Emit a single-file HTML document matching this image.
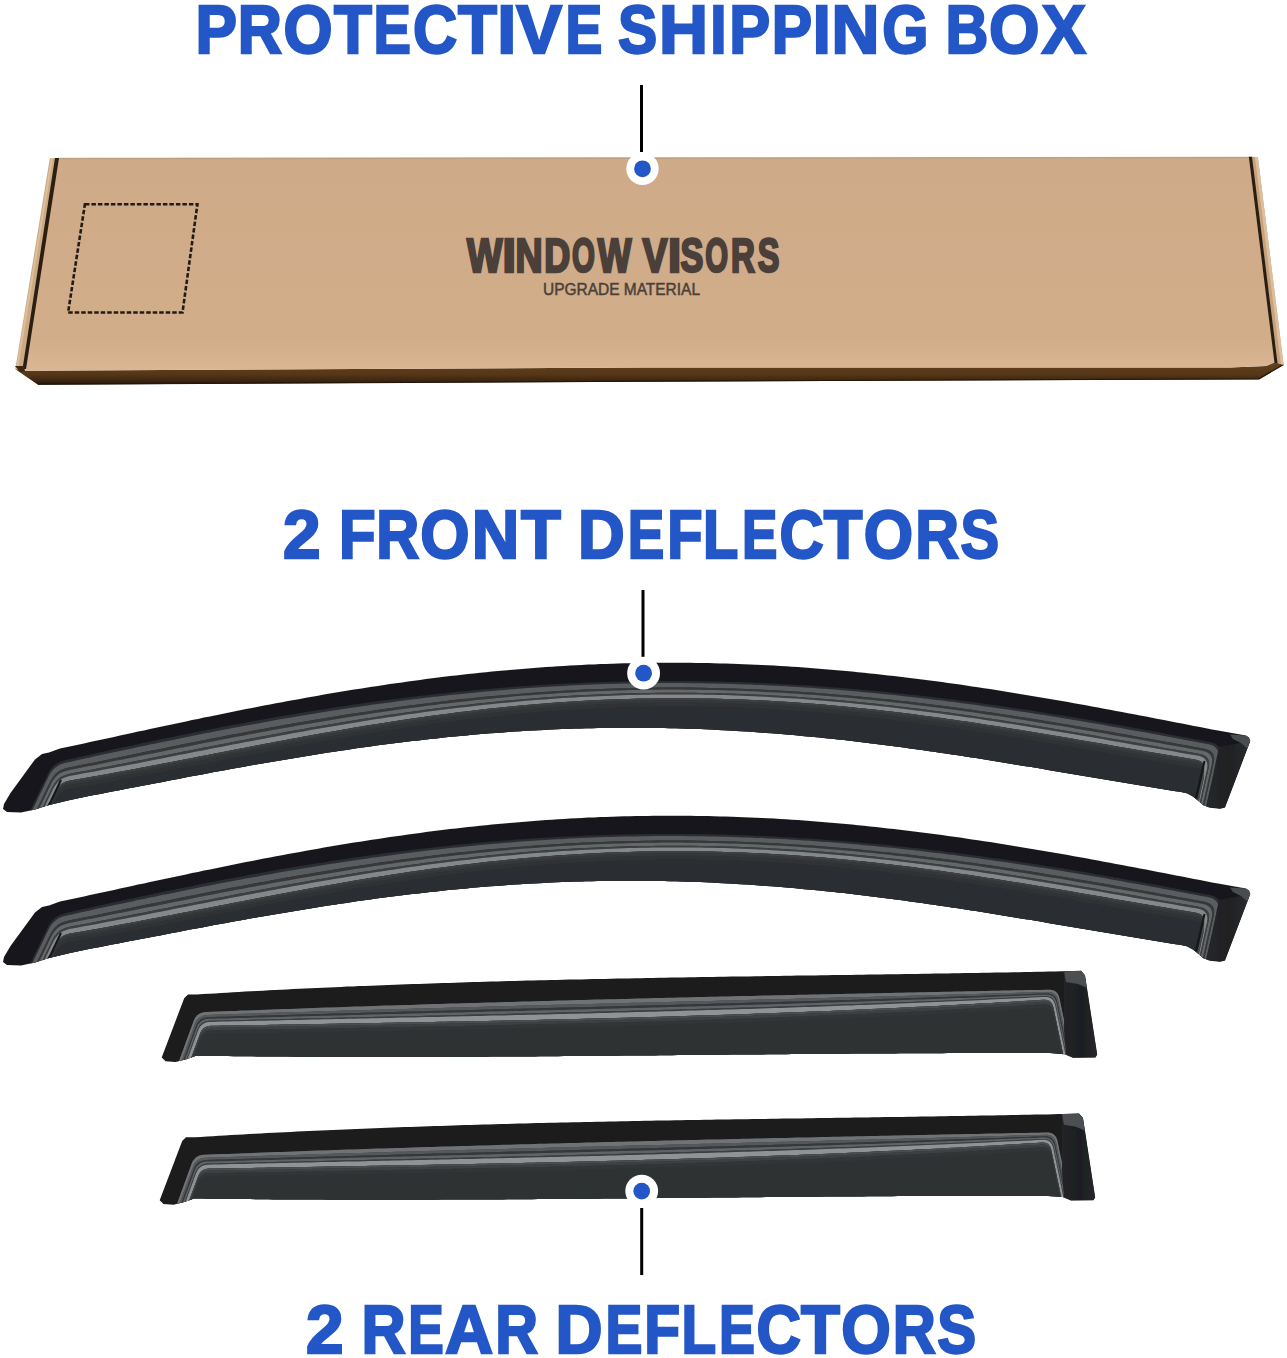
<!DOCTYPE html>
<html><head><meta charset="utf-8">
<style>
html,body{margin:0;padding:0;background:#fff;width:1287px;height:1358px;overflow:hidden}
svg{display:block}
</style></head>
<body>
<svg width="1287" height="1358" viewBox="0 0 1287 1358">
<defs>
<linearGradient id="front" x1="0" y1="0" x2="0" y2="1">
<stop offset="0" stop-color="#65421f"/><stop offset="0.55" stop-color="#553617"/><stop offset="0.85" stop-color="#3a2410"/><stop offset="1" stop-color="#1e120a"/>
</linearGradient>
<linearGradient id="topface" x1="0" y1="0" x2="0" y2="1">
<stop offset="0" stop-color="#ceaa88"/><stop offset="0.85" stop-color="#d1ad8a"/><stop offset="1" stop-color="#dab693"/>
</linearGradient>
<linearGradient id="capg1" x1="0" y1="0" x2="1" y2="0"><stop offset="0" stop-color="#26282a"/><stop offset="0.5" stop-color="#1f2123"/><stop offset="1" stop-color="#2a2c2e"/></linearGradient>
<linearGradient id="capg3" x1="0" y1="0" x2="1" y2="0"><stop offset="0" stop-color="#232527"/><stop offset="0.55" stop-color="#1c1e20"/><stop offset="1" stop-color="#27292b"/></linearGradient>
<filter id="soft" x="-2%" y="-10%" width="104%" height="120%"><feGaussianBlur stdDeviation="0.6"/></filter>
<clipPath id="c1"><polygon points="42.0,754.1 49.0,752.4 60.0,748.6 66.0,747.3 72.0,746.0 78.0,744.7 84.0,743.4 90.0,742.1 96.0,740.8 102.0,739.5 108.0,738.2 114.0,736.9 120.0,735.6 126.0,734.2 132.0,732.9 138.0,731.6 144.0,730.4 150.0,729.1 156.0,727.8 162.0,726.5 168.0,725.2 174.0,723.9 180.0,722.7 186.0,721.4 192.0,720.1 198.0,718.9 204.0,717.6 210.0,716.4 216.0,715.2 222.0,713.9 228.0,712.7 234.0,711.5 240.0,710.3 246.0,709.1 252.0,708.0 258.0,706.8 264.0,705.6 270.0,704.5 276.0,703.3 282.0,702.2 288.0,701.1 294.0,700.0 300.0,698.9 306.0,697.8 312.0,696.7 318.0,695.7 324.0,694.6 330.0,693.6 336.0,692.6 342.0,691.6 348.0,690.6 354.0,689.6 360.0,688.7 366.0,687.7 372.0,686.8 378.0,685.9 384.0,685.0 390.0,684.1 396.0,683.2 402.0,682.4 408.0,681.5 414.0,680.7 420.0,679.9 426.0,679.1 432.0,678.3 438.0,677.6 444.0,676.8 450.0,676.1 456.0,675.4 462.0,674.7 468.0,674.1 474.0,673.4 480.0,672.8 486.0,672.2 492.0,671.6 498.0,671.0 504.0,670.4 510.0,669.9 516.0,669.4 522.0,668.9 528.0,668.4 534.0,667.9 540.0,667.5 546.0,667.1 552.0,666.7 558.0,666.3 564.0,665.9 570.0,665.6 576.0,665.2 582.0,664.9 588.0,664.6 594.0,664.4 600.0,664.1 606.0,663.9 612.0,663.7 618.0,663.5 624.0,663.3 630.0,663.2 636.0,663.1 642.0,662.9 648.0,662.9 654.0,662.8 660.0,662.7 666.0,662.7 672.0,662.7 678.0,662.7 684.0,662.8 690.0,662.8 696.0,662.9 702.0,663.0 708.0,663.1 714.0,663.2 720.0,663.4 726.0,663.5 732.0,663.7 738.0,664.0 744.0,664.2 750.0,664.4 756.0,664.7 762.0,665.0 768.0,665.3 774.0,665.6 780.0,666.0 786.0,666.3 792.0,666.7 798.0,667.1 804.0,667.6 810.0,668.0 816.0,668.5 822.0,668.9 828.0,669.4 834.0,669.9 840.0,670.5 846.0,671.0 852.0,671.6 858.0,672.2 864.0,672.8 870.0,673.4 876.0,674.0 882.0,674.7 888.0,675.4 894.0,676.1 900.0,676.8 906.0,677.5 912.0,678.2 918.0,679.0 924.0,679.7 930.0,680.5 936.0,681.3 942.0,682.1 948.0,682.9 954.0,683.8 960.0,684.6 966.0,685.5 972.0,686.4 978.0,687.3 984.0,688.2 990.0,689.1 996.0,690.0 1002.0,691.0 1008.0,691.9 1014.0,692.9 1020.0,693.9 1026.0,694.9 1032.0,695.9 1038.0,696.9 1044.0,697.9 1050.0,699.0 1056.0,700.0 1062.0,701.0 1068.0,702.1 1074.0,703.2 1080.0,704.3 1086.0,705.3 1092.0,706.4 1098.0,707.5 1104.0,708.7 1110.0,709.8 1116.0,710.9 1122.0,712.0 1128.0,713.2 1134.0,714.3 1140.0,715.4 1146.0,716.6 1152.0,717.7 1158.0,718.9 1164.0,720.1 1170.0,721.2 1176.0,722.4 1182.0,723.6 1188.0,724.7 1194.0,725.9 1200.0,727.1 1206.0,728.2 1212.0,729.4 1218.0,730.6 1246.0,735.4 1249.0,737.5 1250.3,741.0 1225.0,807.4 1220.0,808.8 1210.0,807.8 1203.0,805.0 1198.0,800.5 1193.0,796.5 1187.0,793.2 1180.0,791.8 1174.0,790.9 1168.0,789.9 1162.0,789.0 1156.0,788.0 1150.0,787.0 1144.0,786.0 1138.0,785.0 1132.0,784.0 1126.0,783.0 1120.0,782.0 1114.0,781.0 1108.0,780.0 1102.0,779.0 1096.0,778.0 1090.0,776.9 1084.0,775.9 1078.0,774.9 1072.0,773.9 1066.0,772.9 1060.0,771.9 1054.0,770.9 1048.0,769.9 1042.0,768.8 1036.0,767.8 1030.0,766.8 1024.0,765.9 1018.0,764.9 1012.0,763.9 1006.0,762.9 1000.0,761.9 994.0,761.0 988.0,760.0 982.0,759.1 976.0,758.1 970.0,757.2 964.0,756.3 958.0,755.3 952.0,754.4 946.0,753.5 940.0,752.7 934.0,751.8 928.0,750.9 922.0,750.1 916.0,749.2 910.0,748.4 904.0,747.6 898.0,746.8 892.0,746.0 886.0,745.2 880.0,744.4 874.0,743.7 868.0,742.9 862.0,742.2 856.0,741.5 850.0,740.8 844.0,740.1 838.0,739.5 832.0,738.8 826.0,738.2 820.0,737.6 814.0,737.0 808.0,736.4 802.0,735.9 796.0,735.3 790.0,734.8 784.0,734.3 778.0,733.8 772.0,733.3 766.0,732.9 760.0,732.4 754.0,732.0 748.0,731.6 742.0,731.2 736.0,730.9 730.0,730.5 724.0,730.2 718.0,729.9 712.0,729.6 706.0,729.3 700.0,729.1 694.0,728.9 688.0,728.7 682.0,728.5 676.0,728.3 670.0,728.2 664.0,728.1 658.0,727.9 652.0,727.9 646.0,727.8 640.0,727.8 634.0,727.7 628.0,727.7 622.0,727.8 616.0,727.8 610.0,727.9 604.0,727.9 598.0,728.0 592.0,728.2 586.0,728.3 580.0,728.5 574.0,728.6 568.0,728.9 562.0,729.1 556.0,729.3 550.0,729.6 544.0,729.9 538.0,730.2 532.0,730.5 526.0,730.8 520.0,731.2 514.0,731.6 508.0,732.0 502.0,732.4 496.0,732.9 490.0,733.3 484.0,733.8 478.0,734.3 472.0,734.8 466.0,735.4 460.0,735.9 454.0,736.5 448.0,737.1 442.0,737.7 436.0,738.4 430.0,739.0 424.0,739.7 418.0,740.4 412.0,741.1 406.0,741.8 400.0,742.5 394.0,743.3 388.0,744.0 382.0,744.8 376.0,745.6 370.0,746.5 364.0,747.3 358.0,748.1 352.0,749.0 346.0,749.9 340.0,750.8 334.0,751.7 328.0,752.6 322.0,753.5 316.0,754.5 310.0,755.4 304.0,756.4 298.0,757.4 292.0,758.4 286.0,759.4 280.0,760.4 274.0,761.4 268.0,762.4 262.0,763.5 256.0,764.5 250.0,765.6 244.0,766.7 238.0,767.7 232.0,768.8 226.0,769.9 220.0,771.0 214.0,772.1 208.0,773.3 202.0,774.4 196.0,775.5 190.0,776.6 184.0,777.8 178.0,778.9 172.0,780.1 166.0,781.2 160.0,782.4 154.0,783.5 148.0,784.7 142.0,785.8 136.0,787.0 130.0,788.1 124.0,789.3 118.0,790.4 112.0,791.6 106.0,792.7 100.0,793.9 94.0,795.0 90.0,795.8 70.0,800.0 49.0,805.0 35.0,809.5 21.0,812.5 7.0,812.0 3.0,809.0 4.0,804.0 10.5,793.0 35.0,759.4"/></clipPath>
<clipPath id="c3"><polygon points="188.0,994.4 197.0,994.5 203.0,994.1 209.0,993.7 215.0,993.4 221.0,993.0 227.0,992.7 233.0,992.3 239.0,992.0 245.0,991.6 251.0,991.3 257.0,991.0 263.0,990.7 269.0,990.3 275.0,990.0 281.0,989.7 287.0,989.4 293.0,989.1 299.0,988.8 305.0,988.5 311.0,988.3 317.0,988.0 323.0,987.7 329.0,987.4 335.0,987.2 341.0,986.9 347.0,986.6 353.0,986.4 359.0,986.1 365.0,985.9 371.0,985.7 377.0,985.4 383.0,985.2 389.0,985.0 395.0,984.7 401.0,984.5 407.0,984.3 413.0,984.1 419.0,983.9 425.0,983.7 431.0,983.5 437.0,983.3 443.0,983.1 449.0,982.9 455.0,982.7 461.0,982.5 467.0,982.3 473.0,982.1 479.0,981.9 485.0,981.8 491.0,981.6 497.0,981.4 503.0,981.3 509.0,981.1 515.0,980.9 521.0,980.8 527.0,980.6 533.0,980.5 539.0,980.3 545.0,980.2 551.0,980.0 557.0,979.9 563.0,979.8 569.0,979.6 575.0,979.5 581.0,979.4 587.0,979.2 593.0,979.1 599.0,979.0 605.0,978.9 611.0,978.7 617.0,978.6 623.0,978.5 629.0,978.4 635.0,978.3 641.0,978.2 647.0,978.0 653.0,977.9 659.0,977.8 665.0,977.7 671.0,977.6 677.0,977.5 683.0,977.4 689.0,977.3 695.0,977.2 701.0,977.1 707.0,977.0 713.0,976.9 719.0,976.8 725.0,976.7 731.0,976.6 737.0,976.5 743.0,976.4 749.0,976.4 755.0,976.3 761.0,976.2 767.0,976.1 773.0,976.0 779.0,975.9 785.0,975.8 791.0,975.7 797.0,975.6 803.0,975.6 809.0,975.5 815.0,975.4 821.0,975.3 827.0,975.2 833.0,975.1 839.0,975.0 845.0,975.0 851.0,974.9 857.0,974.8 863.0,974.7 869.0,974.6 875.0,974.5 881.0,974.4 887.0,974.3 893.0,974.2 899.0,974.2 905.0,974.1 911.0,974.0 917.0,973.9 923.0,973.8 929.0,973.7 935.0,973.6 941.0,973.5 947.0,973.4 953.0,973.3 959.0,973.2 965.0,973.1 971.0,973.0 977.0,972.9 983.0,972.8 989.0,972.7 995.0,972.6 1001.0,972.5 1007.0,972.4 1013.0,972.3 1019.0,972.2 1025.0,972.0 1031.0,971.9 1037.0,971.8 1043.0,971.7 1049.0,971.6 1055.0,971.4 1061.0,971.3 1065.0,971.2 1081.0,970.8 1085.0,975.2 1097.2,1054.6 1095.5,1057.4 1072.9,1057.8 1064.8,1054.2 1050.0,1053.1 1044.0,1053.1 1038.0,1053.1 1032.0,1053.1 1026.0,1053.1 1020.0,1053.1 1014.0,1053.0 1008.0,1053.0 1002.0,1053.0 996.0,1053.0 990.0,1053.0 984.0,1053.1 978.0,1053.1 972.0,1053.1 966.0,1053.1 960.0,1053.1 954.0,1053.1 948.0,1053.1 942.0,1053.2 936.0,1053.2 930.0,1053.2 924.0,1053.2 918.0,1053.2 912.0,1053.3 906.0,1053.3 900.0,1053.3 894.0,1053.4 888.0,1053.4 882.0,1053.4 876.0,1053.5 870.0,1053.5 864.0,1053.6 858.0,1053.6 852.0,1053.6 846.0,1053.7 840.0,1053.7 834.0,1053.8 828.0,1053.8 822.0,1053.9 816.0,1053.9 810.0,1053.9 804.0,1054.0 798.0,1054.0 792.0,1054.1 786.0,1054.2 780.0,1054.2 774.0,1054.3 768.0,1054.3 762.0,1054.4 756.0,1054.4 750.0,1054.5 744.0,1054.5 738.0,1054.6 732.0,1054.6 726.0,1054.7 720.0,1054.7 714.0,1054.8 708.0,1054.9 702.0,1054.9 696.0,1055.0 690.0,1055.0 684.0,1055.1 678.0,1055.1 672.0,1055.2 666.0,1055.3 660.0,1055.3 654.0,1055.4 648.0,1055.4 642.0,1055.5 636.0,1055.5 630.0,1055.6 624.0,1055.6 618.0,1055.7 612.0,1055.7 606.0,1055.8 600.0,1055.9 594.0,1055.9 588.0,1056.0 582.0,1056.0 576.0,1056.1 570.0,1056.1 564.0,1056.1 558.0,1056.2 552.0,1056.2 546.0,1056.3 540.0,1056.3 534.0,1056.4 528.0,1056.4 522.0,1056.4 516.0,1056.5 510.0,1056.5 504.0,1056.6 498.0,1056.6 492.0,1056.6 486.0,1056.7 480.0,1056.7 474.0,1056.7 468.0,1056.7 462.0,1056.8 456.0,1056.8 450.0,1056.8 444.0,1056.8 438.0,1056.9 432.0,1056.9 426.0,1056.9 420.0,1056.9 414.0,1056.9 408.0,1056.9 402.0,1056.9 396.0,1056.9 390.0,1056.9 384.0,1056.9 378.0,1056.9 372.0,1056.9 366.0,1056.9 360.0,1056.9 354.0,1056.9 348.0,1056.9 342.0,1056.9 336.0,1056.9 330.0,1056.9 324.0,1056.8 318.0,1056.8 312.0,1056.8 306.0,1056.7 300.0,1056.7 294.0,1056.7 288.0,1056.6 282.0,1056.6 276.0,1056.6 270.0,1056.5 264.0,1056.5 258.0,1056.4 252.0,1056.3 246.0,1056.3 240.0,1056.2 234.0,1056.2 228.0,1056.1 222.0,1056.0 216.0,1055.9 210.0,1055.9 204.0,1055.8 198.0,1055.7 196.0,1055.7 187.3,1058.9 175.6,1062.0 165.5,1061.2 161.7,1057.4 184.2,998.3"/></clipPath>
<g id="v1" filter="url(#soft)"><polygon points="42.0,754.1 49.0,752.4 60.0,748.6 66.0,747.3 72.0,746.0 78.0,744.7 84.0,743.4 90.0,742.1 96.0,740.8 102.0,739.5 108.0,738.2 114.0,736.9 120.0,735.6 126.0,734.2 132.0,732.9 138.0,731.6 144.0,730.4 150.0,729.1 156.0,727.8 162.0,726.5 168.0,725.2 174.0,723.9 180.0,722.7 186.0,721.4 192.0,720.1 198.0,718.9 204.0,717.6 210.0,716.4 216.0,715.2 222.0,713.9 228.0,712.7 234.0,711.5 240.0,710.3 246.0,709.1 252.0,708.0 258.0,706.8 264.0,705.6 270.0,704.5 276.0,703.3 282.0,702.2 288.0,701.1 294.0,700.0 300.0,698.9 306.0,697.8 312.0,696.7 318.0,695.7 324.0,694.6 330.0,693.6 336.0,692.6 342.0,691.6 348.0,690.6 354.0,689.6 360.0,688.7 366.0,687.7 372.0,686.8 378.0,685.9 384.0,685.0 390.0,684.1 396.0,683.2 402.0,682.4 408.0,681.5 414.0,680.7 420.0,679.9 426.0,679.1 432.0,678.3 438.0,677.6 444.0,676.8 450.0,676.1 456.0,675.4 462.0,674.7 468.0,674.1 474.0,673.4 480.0,672.8 486.0,672.2 492.0,671.6 498.0,671.0 504.0,670.4 510.0,669.9 516.0,669.4 522.0,668.9 528.0,668.4 534.0,667.9 540.0,667.5 546.0,667.1 552.0,666.7 558.0,666.3 564.0,665.9 570.0,665.6 576.0,665.2 582.0,664.9 588.0,664.6 594.0,664.4 600.0,664.1 606.0,663.9 612.0,663.7 618.0,663.5 624.0,663.3 630.0,663.2 636.0,663.1 642.0,662.9 648.0,662.9 654.0,662.8 660.0,662.7 666.0,662.7 672.0,662.7 678.0,662.7 684.0,662.8 690.0,662.8 696.0,662.9 702.0,663.0 708.0,663.1 714.0,663.2 720.0,663.4 726.0,663.5 732.0,663.7 738.0,664.0 744.0,664.2 750.0,664.4 756.0,664.7 762.0,665.0 768.0,665.3 774.0,665.6 780.0,666.0 786.0,666.3 792.0,666.7 798.0,667.1 804.0,667.6 810.0,668.0 816.0,668.5 822.0,668.9 828.0,669.4 834.0,669.9 840.0,670.5 846.0,671.0 852.0,671.6 858.0,672.2 864.0,672.8 870.0,673.4 876.0,674.0 882.0,674.7 888.0,675.4 894.0,676.1 900.0,676.8 906.0,677.5 912.0,678.2 918.0,679.0 924.0,679.7 930.0,680.5 936.0,681.3 942.0,682.1 948.0,682.9 954.0,683.8 960.0,684.6 966.0,685.5 972.0,686.4 978.0,687.3 984.0,688.2 990.0,689.1 996.0,690.0 1002.0,691.0 1008.0,691.9 1014.0,692.9 1020.0,693.9 1026.0,694.9 1032.0,695.9 1038.0,696.9 1044.0,697.9 1050.0,699.0 1056.0,700.0 1062.0,701.0 1068.0,702.1 1074.0,703.2 1080.0,704.3 1086.0,705.3 1092.0,706.4 1098.0,707.5 1104.0,708.7 1110.0,709.8 1116.0,710.9 1122.0,712.0 1128.0,713.2 1134.0,714.3 1140.0,715.4 1146.0,716.6 1152.0,717.7 1158.0,718.9 1164.0,720.1 1170.0,721.2 1176.0,722.4 1182.0,723.6 1188.0,724.7 1194.0,725.9 1200.0,727.1 1206.0,728.2 1212.0,729.4 1218.0,730.6 1246.0,735.4 1249.0,737.5 1250.3,741.0 1225.0,807.4 1220.0,808.8 1210.0,807.8 1203.0,805.0 1198.0,800.5 1193.0,796.5 1187.0,793.2 1180.0,791.8 1174.0,790.9 1168.0,789.9 1162.0,789.0 1156.0,788.0 1150.0,787.0 1144.0,786.0 1138.0,785.0 1132.0,784.0 1126.0,783.0 1120.0,782.0 1114.0,781.0 1108.0,780.0 1102.0,779.0 1096.0,778.0 1090.0,776.9 1084.0,775.9 1078.0,774.9 1072.0,773.9 1066.0,772.9 1060.0,771.9 1054.0,770.9 1048.0,769.9 1042.0,768.8 1036.0,767.8 1030.0,766.8 1024.0,765.9 1018.0,764.9 1012.0,763.9 1006.0,762.9 1000.0,761.9 994.0,761.0 988.0,760.0 982.0,759.1 976.0,758.1 970.0,757.2 964.0,756.3 958.0,755.3 952.0,754.4 946.0,753.5 940.0,752.7 934.0,751.8 928.0,750.9 922.0,750.1 916.0,749.2 910.0,748.4 904.0,747.6 898.0,746.8 892.0,746.0 886.0,745.2 880.0,744.4 874.0,743.7 868.0,742.9 862.0,742.2 856.0,741.5 850.0,740.8 844.0,740.1 838.0,739.5 832.0,738.8 826.0,738.2 820.0,737.6 814.0,737.0 808.0,736.4 802.0,735.9 796.0,735.3 790.0,734.8 784.0,734.3 778.0,733.8 772.0,733.3 766.0,732.9 760.0,732.4 754.0,732.0 748.0,731.6 742.0,731.2 736.0,730.9 730.0,730.5 724.0,730.2 718.0,729.9 712.0,729.6 706.0,729.3 700.0,729.1 694.0,728.9 688.0,728.7 682.0,728.5 676.0,728.3 670.0,728.2 664.0,728.1 658.0,727.9 652.0,727.9 646.0,727.8 640.0,727.8 634.0,727.7 628.0,727.7 622.0,727.8 616.0,727.8 610.0,727.9 604.0,727.9 598.0,728.0 592.0,728.2 586.0,728.3 580.0,728.5 574.0,728.6 568.0,728.9 562.0,729.1 556.0,729.3 550.0,729.6 544.0,729.9 538.0,730.2 532.0,730.5 526.0,730.8 520.0,731.2 514.0,731.6 508.0,732.0 502.0,732.4 496.0,732.9 490.0,733.3 484.0,733.8 478.0,734.3 472.0,734.8 466.0,735.4 460.0,735.9 454.0,736.5 448.0,737.1 442.0,737.7 436.0,738.4 430.0,739.0 424.0,739.7 418.0,740.4 412.0,741.1 406.0,741.8 400.0,742.5 394.0,743.3 388.0,744.0 382.0,744.8 376.0,745.6 370.0,746.5 364.0,747.3 358.0,748.1 352.0,749.0 346.0,749.9 340.0,750.8 334.0,751.7 328.0,752.6 322.0,753.5 316.0,754.5 310.0,755.4 304.0,756.4 298.0,757.4 292.0,758.4 286.0,759.4 280.0,760.4 274.0,761.4 268.0,762.4 262.0,763.5 256.0,764.5 250.0,765.6 244.0,766.7 238.0,767.7 232.0,768.8 226.0,769.9 220.0,771.0 214.0,772.1 208.0,773.3 202.0,774.4 196.0,775.5 190.0,776.6 184.0,777.8 178.0,778.9 172.0,780.1 166.0,781.2 160.0,782.4 154.0,783.5 148.0,784.7 142.0,785.8 136.0,787.0 130.0,788.1 124.0,789.3 118.0,790.4 112.0,791.6 106.0,792.7 100.0,793.9 94.0,795.0 90.0,795.8 70.0,800.0 49.0,805.0 35.0,809.5 21.0,812.5 7.0,812.0 3.0,809.0 4.0,804.0 10.5,793.0 35.0,759.4" fill="#18191b"/>
<g clip-path="url(#c1)"><polygon points="27.1,817.1 47.9,773.9 49.3,771.3 50.9,769.0 52.8,766.9 54.8,765.1 57.1,763.5 59.5,762.2 62.2,761.2 65.1,760.3 71.1,759.0 77.1,757.6 83.1,756.3 89.1,754.9 95.1,753.6 101.1,752.3 107.1,750.9 113.1,749.6 119.1,748.3 125.1,747.0 131.1,745.7 137.1,744.4 143.1,743.1 149.1,741.9 155.1,740.6 161.1,739.3 167.1,738.1 173.1,736.9 179.1,735.6 185.1,734.4 191.1,733.2 197.1,732.0 203.1,730.8 209.1,729.6 215.1,728.4 221.1,727.3 227.1,726.1 233.1,725.0 239.1,723.9 245.1,722.7 251.1,721.6 257.1,720.6 263.1,719.5 269.1,718.4 275.1,717.3 281.1,716.3 287.1,715.3 293.1,714.2 299.1,713.2 305.1,712.3 311.1,711.3 317.1,710.3 323.1,709.4 329.1,708.4 335.1,707.5 341.1,706.6 347.1,705.7 353.1,704.8 359.1,703.9 365.1,703.1 371.1,702.2 377.1,701.4 383.1,700.6 389.1,699.8 395.1,699.0 401.1,698.3 407.1,697.5 413.1,696.8 419.1,696.1 425.1,695.4 431.1,694.7 437.1,694.0 443.1,693.4 449.1,692.7 455.1,692.1 461.1,691.5 467.1,690.9 473.1,690.3 479.1,689.8 485.1,689.2 491.1,688.7 497.1,688.2 503.1,687.7 509.1,687.2 515.1,686.8 521.1,686.3 527.1,685.9 533.1,685.5 539.1,685.1 545.1,684.8 551.1,684.4 557.1,684.1 563.1,683.8 569.1,683.4 575.1,683.2 581.1,682.9 587.1,682.6 593.1,682.4 599.1,682.2 605.1,682.0 611.1,681.8 617.1,681.7 623.1,681.5 629.1,681.4 635.1,681.3 641.1,681.2 647.1,681.1 653.1,681.1 659.1,681.0 665.1,681.0 671.1,681.0 677.1,681.0 683.1,681.0 689.1,681.1 695.1,681.1 701.1,681.2 707.1,681.3 713.1,681.4 719.1,681.6 725.1,681.7 731.1,681.9 737.1,682.1 743.1,682.3 749.1,682.5 755.1,682.8 761.1,683.0 767.1,683.3 773.1,683.6 779.1,683.9 785.1,684.2 791.1,684.5 797.1,684.9 803.1,685.3 809.1,685.6 815.1,686.0 821.1,686.5 827.1,686.9 833.1,687.4 839.1,687.8 845.1,688.3 851.1,688.8 857.1,689.3 863.1,689.9 869.1,690.4 875.1,691.0 881.1,691.5 887.1,692.1 893.1,692.8 899.1,693.4 905.1,694.0 911.1,694.7 917.1,695.3 923.1,696.0 929.1,696.7 935.1,697.4 941.1,698.1 947.1,698.9 953.1,699.6 959.1,700.4 965.1,701.2 971.1,702.0 977.1,702.8 983.1,703.6 989.1,704.4 995.1,705.3 1001.1,706.1 1007.1,707.0 1013.1,707.9 1019.1,708.8 1025.1,709.7 1031.1,710.6 1037.1,711.5 1043.1,712.5 1049.1,713.4 1055.1,714.4 1061.1,715.3 1067.1,716.3 1073.1,717.3 1079.1,718.3 1085.1,719.3 1091.1,720.3 1097.1,721.4 1103.1,722.4 1109.1,723.5 1115.1,724.5 1121.1,725.6 1127.1,726.7 1133.1,727.7 1139.1,728.8 1145.1,729.9 1151.1,731.0 1157.1,732.1 1163.1,733.3 1169.1,734.4 1175.1,735.5 1181.1,736.7 1187.1,737.8 1193.1,739.0 1199.1,740.1 1205.1,741.3 1210.6,742.3 1213.3,743.1 1215.7,744.1 1217.5,745.4 1218.9,747.0 1219.9,748.9 1220.4,751.1 1220.4,753.6 1220.0,756.4 1209.7,803.3 1209.7,860.0 27.1,860.0" fill="#2c2e30"/>
<polygon points="27.9,819.4 48.8,776.1 50.2,773.6 51.8,771.2 53.6,769.2 55.7,767.4 57.9,765.8 60.4,764.5 63.1,763.5 66.0,762.7 72.0,761.4 78.0,760.1 84.0,758.7 90.0,757.4 96.0,756.1 102.0,754.8 108.0,753.5 114.0,752.2 120.0,751.0 126.0,749.7 132.0,748.4 138.0,747.1 144.0,745.9 150.0,744.6 156.0,743.4 162.0,742.1 168.0,740.9 174.0,739.7 180.0,738.4 186.0,737.2 192.0,736.0 198.0,734.8 204.0,733.6 210.0,732.5 216.0,731.3 222.0,730.1 228.0,729.0 234.0,727.8 240.0,726.7 246.0,725.6 252.0,724.5 258.0,723.4 264.0,722.3 270.0,721.2 276.0,720.1 282.0,719.1 288.0,718.1 294.0,717.0 300.0,716.0 306.0,715.0 312.0,714.0 318.0,713.0 324.0,712.1 330.0,711.1 336.0,710.2 342.0,709.3 348.0,708.3 354.0,707.4 360.0,706.6 366.0,705.7 372.0,704.8 378.0,704.0 384.0,703.2 390.0,702.4 396.0,701.6 402.0,700.8 408.0,700.0 414.0,699.3 420.0,698.5 426.0,697.8 432.0,697.1 438.0,696.4 444.0,695.8 450.0,695.1 456.0,694.5 462.0,693.9 468.0,693.3 474.0,692.7 480.0,692.1 486.0,691.5 492.0,691.0 498.0,690.5 504.0,690.0 510.0,689.5 516.0,689.0 522.0,688.6 528.0,688.1 534.0,687.7 540.0,687.3 546.0,686.9 552.0,686.6 558.0,686.2 564.0,685.9 570.0,685.6 576.0,685.3 582.0,685.0 588.0,684.8 594.0,684.5 600.0,684.3 606.0,684.1 612.0,683.9 618.0,683.8 624.0,683.6 630.0,683.5 636.0,683.4 642.0,683.3 648.0,683.2 654.0,683.1 660.0,683.1 666.0,683.1 672.0,683.1 678.0,683.1 684.0,683.1 690.0,683.2 696.0,683.2 702.0,683.3 708.0,683.4 714.0,683.5 720.0,683.7 726.0,683.8 732.0,684.0 738.0,684.2 744.0,684.4 750.0,684.6 756.0,684.9 762.0,685.1 768.0,685.4 774.0,685.7 780.0,686.0 786.0,686.3 792.0,686.7 798.0,687.1 804.0,687.4 810.0,687.8 816.0,688.3 822.0,688.7 828.0,689.1 834.0,689.6 840.0,690.1 846.0,690.6 852.0,691.1 858.0,691.6 864.0,692.2 870.0,692.7 876.0,693.3 882.0,693.9 888.0,694.5 894.0,695.1 900.0,695.8 906.0,696.4 912.0,697.1 918.0,697.8 924.0,698.5 930.0,699.2 936.0,699.9 942.0,700.6 948.0,701.4 954.0,702.1 960.0,702.9 966.0,703.7 972.0,704.5 978.0,705.3 984.0,706.2 990.0,707.0 996.0,707.9 1002.0,708.7 1008.0,709.6 1014.0,710.5 1020.0,711.4 1026.0,712.3 1032.0,713.3 1038.0,714.2 1044.0,715.1 1050.0,716.1 1056.0,717.1 1062.0,718.0 1068.0,719.0 1074.0,720.0 1080.0,721.0 1086.0,722.1 1092.0,723.1 1098.0,724.1 1104.0,725.1 1110.0,726.2 1116.0,727.3 1122.0,728.3 1128.0,729.4 1134.0,730.5 1140.0,731.6 1146.0,732.6 1152.0,733.7 1158.0,734.8 1164.0,735.9 1170.0,737.1 1176.0,738.2 1182.0,739.3 1188.0,740.4 1194.0,741.6 1200.0,742.7 1206.0,743.8 1208.6,744.3 1211.4,745.1 1213.7,746.1 1215.5,747.4 1216.9,749.0 1217.9,750.9 1218.4,753.1 1218.4,755.6 1218.0,758.3 1207.7,805.2 1203.4,809.5 1213.7,762.6 1214.1,759.8 1214.1,757.3 1213.6,755.2 1212.6,753.3 1211.2,751.7 1209.4,750.4 1207.0,749.4 1204.3,748.7 1201.8,748.3 1195.8,747.2 1189.8,746.1 1183.8,745.0 1177.8,743.9 1171.8,742.8 1165.8,741.7 1159.8,740.7 1153.8,739.6 1147.8,738.5 1141.8,737.4 1135.8,736.4 1129.8,735.3 1123.8,734.2 1117.8,733.2 1111.8,732.1 1105.8,731.1 1099.8,730.0 1093.8,729.0 1087.8,728.0 1081.8,726.9 1075.8,725.9 1069.8,724.9 1063.8,723.9 1057.8,722.9 1051.8,722.0 1045.8,721.0 1039.8,720.0 1033.8,719.1 1027.8,718.1 1021.8,717.2 1015.8,716.2 1009.8,715.3 1003.8,714.4 997.8,713.5 991.8,712.6 985.8,711.8 979.8,710.9 973.8,710.1 967.8,709.2 961.8,708.4 955.8,707.6 949.8,706.8 943.8,706.0 937.8,705.3 931.8,704.5 925.8,703.8 919.8,703.0 913.8,702.3 907.8,701.6 901.8,700.9 895.8,700.3 889.8,699.6 883.8,699.0 877.8,698.4 871.8,697.8 865.8,697.2 859.8,696.6 853.8,696.0 847.8,695.5 841.8,695.0 835.8,694.5 829.8,694.0 823.8,693.5 817.8,693.0 811.8,692.6 805.8,692.2 799.8,691.8 793.8,691.4 787.8,691.0 781.8,690.7 775.8,690.3 769.8,690.0 763.8,689.7 757.8,689.5 751.8,689.2 745.8,689.0 739.8,688.7 733.8,688.5 727.8,688.4 721.8,688.2 715.8,688.0 709.8,687.9 703.8,687.8 697.8,687.7 691.8,687.6 685.8,687.6 679.8,687.6 673.8,687.5 667.8,687.6 661.8,687.6 655.8,687.6 649.8,687.7 643.8,687.8 637.8,687.9 631.8,688.0 625.8,688.1 619.8,688.3 613.8,688.5 607.8,688.7 601.8,688.9 595.8,689.1 589.8,689.4 583.8,689.6 577.8,689.9 571.8,690.3 565.8,690.6 559.8,690.9 553.8,691.3 547.8,691.7 541.8,692.1 535.8,692.5 529.8,693.0 523.8,693.4 517.8,693.9 511.8,694.4 505.8,694.9 499.8,695.4 493.8,696.0 487.8,696.6 481.8,697.1 475.8,697.7 469.8,698.4 463.8,699.0 457.8,699.6 451.8,700.3 445.8,701.0 439.8,701.7 433.8,702.4 427.8,703.2 421.8,703.9 415.8,704.7 409.8,705.5 403.8,706.3 397.8,707.1 391.8,707.9 385.8,708.7 379.8,709.6 373.8,710.5 367.8,711.4 361.8,712.3 355.8,713.2 349.8,714.1 343.8,715.0 337.8,716.0 331.8,717.0 325.8,718.0 319.8,718.9 313.8,719.9 307.8,721.0 301.8,722.0 295.8,723.0 289.8,724.1 283.8,725.1 277.8,726.2 271.8,727.3 265.8,728.4 259.8,729.5 253.8,730.6 247.8,731.7 241.8,732.9 235.8,734.0 229.8,735.1 223.8,736.3 217.8,737.4 211.8,738.6 205.8,739.8 199.8,741.0 193.8,742.2 187.8,743.3 181.8,744.5 175.8,745.7 169.8,747.0 163.8,748.2 157.8,749.4 151.8,750.6 145.8,751.8 139.8,753.0 133.8,754.3 127.8,755.5 121.8,756.7 115.8,758.0 109.8,759.2 103.8,760.4 97.8,761.7 91.8,762.9 85.8,764.1 79.8,765.3 73.8,766.6 67.8,767.8 64.9,768.5 62.2,769.5 59.7,770.8 57.5,772.3 55.4,774.1 53.6,776.2 52.0,778.5 50.5,781.0 29.7,824.3" fill="#5a5d5f"/>
<polygon points="29.7,824.3 50.5,781.0 52.0,778.5 53.6,776.2 55.4,774.1 57.5,772.3 59.7,770.8 62.2,769.5 64.9,768.5 67.8,767.8 73.8,766.6 79.8,765.3 85.8,764.1 91.8,762.9 97.8,761.7 103.8,760.4 109.8,759.2 115.8,758.0 121.8,756.7 127.8,755.5 133.8,754.3 139.8,753.0 145.8,751.8 151.8,750.6 157.8,749.4 163.8,748.2 169.8,747.0 175.8,745.7 181.8,744.5 187.8,743.3 193.8,742.2 199.8,741.0 205.8,739.8 211.8,738.6 217.8,737.4 223.8,736.3 229.8,735.1 235.8,734.0 241.8,732.9 247.8,731.7 253.8,730.6 259.8,729.5 265.8,728.4 271.8,727.3 277.8,726.2 283.8,725.1 289.8,724.1 295.8,723.0 301.8,722.0 307.8,721.0 313.8,719.9 319.8,718.9 325.8,718.0 331.8,717.0 337.8,716.0 343.8,715.0 349.8,714.1 355.8,713.2 361.8,712.3 367.8,711.4 373.8,710.5 379.8,709.6 385.8,708.7 391.8,707.9 397.8,707.1 403.8,706.3 409.8,705.5 415.8,704.7 421.8,703.9 427.8,703.2 433.8,702.4 439.8,701.7 445.8,701.0 451.8,700.3 457.8,699.6 463.8,699.0 469.8,698.4 475.8,697.7 481.8,697.1 487.8,696.6 493.8,696.0 499.8,695.4 505.8,694.9 511.8,694.4 517.8,693.9 523.8,693.4 529.8,693.0 535.8,692.5 541.8,692.1 547.8,691.7 553.8,691.3 559.8,690.9 565.8,690.6 571.8,690.3 577.8,689.9 583.8,689.6 589.8,689.4 595.8,689.1 601.8,688.9 607.8,688.7 613.8,688.5 619.8,688.3 625.8,688.1 631.8,688.0 637.8,687.9 643.8,687.8 649.8,687.7 655.8,687.6 661.8,687.6 667.8,687.6 673.8,687.5 679.8,687.6 685.8,687.6 691.8,687.6 697.8,687.7 703.8,687.8 709.8,687.9 715.8,688.0 721.8,688.2 727.8,688.4 733.8,688.5 739.8,688.7 745.8,689.0 751.8,689.2 757.8,689.5 763.8,689.7 769.8,690.0 775.8,690.3 781.8,690.7 787.8,691.0 793.8,691.4 799.8,691.8 805.8,692.2 811.8,692.6 817.8,693.0 823.8,693.5 829.8,694.0 835.8,694.5 841.8,695.0 847.8,695.5 853.8,696.0 859.8,696.6 865.8,697.2 871.8,697.8 877.8,698.4 883.8,699.0 889.8,699.6 895.8,700.3 901.8,700.9 907.8,701.6 913.8,702.3 919.8,703.0 925.8,703.8 931.8,704.5 937.8,705.3 943.8,706.0 949.8,706.8 955.8,707.6 961.8,708.4 967.8,709.2 973.8,710.1 979.8,710.9 985.8,711.8 991.8,712.6 997.8,713.5 1003.8,714.4 1009.8,715.3 1015.8,716.2 1021.8,717.2 1027.8,718.1 1033.8,719.1 1039.8,720.0 1045.8,721.0 1051.8,722.0 1057.8,722.9 1063.8,723.9 1069.8,724.9 1075.8,725.9 1081.8,726.9 1087.8,728.0 1093.8,729.0 1099.8,730.0 1105.8,731.1 1111.8,732.1 1117.8,733.2 1123.8,734.2 1129.8,735.3 1135.8,736.4 1141.8,737.4 1147.8,738.5 1153.8,739.6 1159.8,740.7 1165.8,741.7 1171.8,742.8 1177.8,743.9 1183.8,745.0 1189.8,746.1 1195.8,747.2 1201.8,748.3 1204.3,748.7 1207.0,749.4 1209.4,750.4 1211.2,751.7 1212.6,753.3 1213.6,755.2 1214.1,757.3 1214.1,759.8 1213.7,762.6 1203.4,809.5 1201.4,811.5 1211.7,764.6 1212.1,761.8 1212.1,759.3 1211.6,757.2 1210.6,755.3 1209.2,753.7 1207.4,752.4 1205.0,751.4 1202.3,750.8 1196.6,749.8 1190.6,748.7 1184.6,747.6 1178.6,746.5 1172.6,745.5 1166.6,744.4 1160.6,743.3 1154.6,742.3 1148.6,741.2 1142.6,740.1 1136.6,739.1 1130.6,738.0 1124.6,737.0 1118.6,735.9 1112.6,734.9 1106.6,733.8 1100.6,732.8 1094.6,731.7 1088.6,730.7 1082.6,729.7 1076.6,728.7 1070.6,727.6 1064.6,726.6 1058.6,725.6 1052.6,724.7 1046.6,723.7 1040.6,722.7 1034.6,721.7 1028.6,720.8 1022.6,719.8 1016.6,718.9 1010.6,718.0 1004.6,717.1 998.6,716.1 992.6,715.2 986.6,714.4 980.6,713.5 974.6,712.6 968.6,711.8 962.6,711.0 956.6,710.1 950.6,709.3 944.6,708.5 938.6,707.7 932.6,707.0 926.6,706.2 920.6,705.5 914.6,704.7 908.6,704.0 902.6,703.3 896.6,702.7 890.6,702.0 884.6,701.3 878.6,700.7 872.6,700.1 866.6,699.5 860.6,698.9 854.6,698.3 848.6,697.8 842.6,697.2 836.6,696.7 830.6,696.2 824.6,695.7 818.6,695.3 812.6,694.8 806.6,694.4 800.6,694.0 794.6,693.6 788.6,693.2 782.6,692.8 776.6,692.5 770.6,692.2 764.6,691.9 758.6,691.6 752.6,691.3 746.6,691.1 740.6,690.8 734.6,690.6 728.6,690.4 722.6,690.3 716.6,690.1 710.6,690.0 704.6,689.9 698.6,689.8 692.6,689.7 686.6,689.7 680.6,689.6 674.6,689.6 668.6,689.6 662.6,689.6 656.6,689.7 650.6,689.8 644.6,689.8 638.6,689.9 632.6,690.1 626.6,690.2 620.6,690.4 614.6,690.6 608.6,690.8 602.6,691.0 596.6,691.2 590.6,691.5 584.6,691.8 578.6,692.1 572.6,692.4 566.6,692.7 560.6,693.1 554.6,693.5 548.6,693.9 542.6,694.3 536.6,694.7 530.6,695.2 524.6,695.6 518.6,696.1 512.6,696.6 506.6,697.2 500.6,697.7 494.6,698.3 488.6,698.9 482.6,699.5 476.6,700.1 470.6,700.7 464.6,701.4 458.6,702.0 452.6,702.7 446.6,703.4 440.6,704.1 434.6,704.9 428.6,705.6 422.6,706.4 416.6,707.2 410.6,708.0 404.6,708.8 398.6,709.6 392.6,710.5 386.6,711.3 380.6,712.2 374.6,713.1 368.6,714.0 362.6,714.9 356.6,715.8 350.6,716.8 344.6,717.7 338.6,718.7 332.6,719.7 326.6,720.7 320.6,721.7 314.6,722.7 308.6,723.7 302.6,724.8 296.6,725.8 290.6,726.9 284.6,727.9 278.6,729.0 272.6,730.1 266.6,731.2 260.6,732.3 254.6,733.4 248.6,734.6 242.6,735.7 236.6,736.8 230.6,738.0 224.6,739.1 218.6,740.3 212.6,741.5 206.6,742.6 200.6,743.8 194.6,745.0 188.6,746.2 182.6,747.4 176.6,748.6 170.6,749.8 164.6,751.0 158.6,752.2 152.6,753.4 146.6,754.6 140.6,755.8 134.6,757.0 128.6,758.2 122.6,759.4 116.6,760.6 110.6,761.8 104.6,763.0 98.6,764.2 92.6,765.4 86.6,766.6 80.6,767.8 74.6,769.0 68.6,770.2 65.7,770.9 63.0,771.9 60.5,773.1 58.3,774.6 56.2,776.4 54.4,778.5 52.8,780.8 51.4,783.3 30.5,826.6" fill="#37393b"/>
<polygon points="30.5,826.6 51.4,783.3 52.8,780.8 54.4,778.5 56.2,776.4 58.3,774.6 60.5,773.1 63.0,771.9 65.7,770.9 68.6,770.2 74.6,769.0 80.6,767.8 86.6,766.6 92.6,765.4 98.6,764.2 104.6,763.0 110.6,761.8 116.6,760.6 122.6,759.4 128.6,758.2 134.6,757.0 140.6,755.8 146.6,754.6 152.6,753.4 158.6,752.2 164.6,751.0 170.6,749.8 176.6,748.6 182.6,747.4 188.6,746.2 194.6,745.0 200.6,743.8 206.6,742.6 212.6,741.5 218.6,740.3 224.6,739.1 230.6,738.0 236.6,736.8 242.6,735.7 248.6,734.6 254.6,733.4 260.6,732.3 266.6,731.2 272.6,730.1 278.6,729.0 284.6,727.9 290.6,726.9 296.6,725.8 302.6,724.8 308.6,723.7 314.6,722.7 320.6,721.7 326.6,720.7 332.6,719.7 338.6,718.7 344.6,717.7 350.6,716.8 356.6,715.8 362.6,714.9 368.6,714.0 374.6,713.1 380.6,712.2 386.6,711.3 392.6,710.5 398.6,709.6 404.6,708.8 410.6,708.0 416.6,707.2 422.6,706.4 428.6,705.6 434.6,704.9 440.6,704.1 446.6,703.4 452.6,702.7 458.6,702.0 464.6,701.4 470.6,700.7 476.6,700.1 482.6,699.5 488.6,698.9 494.6,698.3 500.6,697.7 506.6,697.2 512.6,696.6 518.6,696.1 524.6,695.6 530.6,695.2 536.6,694.7 542.6,694.3 548.6,693.9 554.6,693.5 560.6,693.1 566.6,692.7 572.6,692.4 578.6,692.1 584.6,691.8 590.6,691.5 596.6,691.2 602.6,691.0 608.6,690.8 614.6,690.6 620.6,690.4 626.6,690.2 632.6,690.1 638.6,689.9 644.6,689.8 650.6,689.8 656.6,689.7 662.6,689.6 668.6,689.6 674.6,689.6 680.6,689.6 686.6,689.7 692.6,689.7 698.6,689.8 704.6,689.9 710.6,690.0 716.6,690.1 722.6,690.3 728.6,690.4 734.6,690.6 740.6,690.8 746.6,691.1 752.6,691.3 758.6,691.6 764.6,691.9 770.6,692.2 776.6,692.5 782.6,692.8 788.6,693.2 794.6,693.6 800.6,694.0 806.6,694.4 812.6,694.8 818.6,695.3 824.6,695.7 830.6,696.2 836.6,696.7 842.6,697.2 848.6,697.8 854.6,698.3 860.6,698.9 866.6,699.5 872.6,700.1 878.6,700.7 884.6,701.3 890.6,702.0 896.6,702.7 902.6,703.3 908.6,704.0 914.6,704.7 920.6,705.5 926.6,706.2 932.6,707.0 938.6,707.7 944.6,708.5 950.6,709.3 956.6,710.1 962.6,711.0 968.6,711.8 974.6,712.6 980.6,713.5 986.6,714.4 992.6,715.2 998.6,716.1 1004.6,717.1 1010.6,718.0 1016.6,718.9 1022.6,719.8 1028.6,720.8 1034.6,721.7 1040.6,722.7 1046.6,723.7 1052.6,724.7 1058.6,725.6 1064.6,726.6 1070.6,727.6 1076.6,728.7 1082.6,729.7 1088.6,730.7 1094.6,731.7 1100.6,732.8 1106.6,733.8 1112.6,734.9 1118.6,735.9 1124.6,737.0 1130.6,738.0 1136.6,739.1 1142.6,740.1 1148.6,741.2 1154.6,742.3 1160.6,743.3 1166.6,744.4 1172.6,745.5 1178.6,746.5 1184.6,747.6 1190.6,748.7 1196.6,749.8 1202.3,750.8 1205.0,751.4 1207.4,752.4 1209.2,753.7 1210.6,755.3 1211.6,757.2 1212.1,759.3 1212.1,761.8 1211.7,764.6 1201.4,811.5 1198.4,814.5 1208.7,767.6 1209.1,764.9 1209.1,762.4 1208.6,760.2 1207.6,758.3 1206.2,756.8 1204.3,755.5 1202.0,754.5 1199.3,753.9 1197.8,753.6 1191.8,752.6 1185.8,751.5 1179.8,750.5 1173.8,749.4 1167.8,748.4 1161.8,747.4 1155.8,746.3 1149.8,745.3 1143.8,744.2 1137.8,743.1 1131.8,742.1 1125.8,741.0 1119.8,740.0 1113.8,739.0 1107.8,737.9 1101.8,736.9 1095.8,735.8 1089.8,734.8 1083.8,733.8 1077.8,732.7 1071.8,731.7 1065.8,730.7 1059.8,729.7 1053.8,728.7 1047.8,727.7 1041.8,726.7 1035.8,725.8 1029.8,724.8 1023.8,723.8 1017.8,722.9 1011.8,721.9 1005.8,721.0 999.8,720.1 993.8,719.2 987.8,718.3 981.8,717.4 975.8,716.5 969.8,715.6 963.8,714.8 957.8,713.9 951.8,713.1 945.8,712.3 939.8,711.5 933.8,710.7 927.8,709.9 921.8,709.1 915.8,708.4 909.8,707.7 903.8,706.9 897.8,706.2 891.8,705.5 885.8,704.9 879.8,704.2 873.8,703.6 867.8,703.0 861.8,702.3 855.8,701.8 849.8,701.2 843.8,700.6 837.8,700.1 831.8,699.6 825.8,699.1 819.8,698.6 813.8,698.1 807.8,697.7 801.8,697.2 795.8,696.8 789.8,696.4 783.8,696.1 777.8,695.7 771.8,695.4 765.8,695.1 759.8,694.8 753.8,694.5 747.8,694.2 741.8,694.0 735.8,693.8 729.8,693.6 723.8,693.4 717.8,693.2 711.8,693.1 705.8,693.0 699.8,692.9 693.8,692.8 687.8,692.8 681.8,692.7 675.8,692.7 669.8,692.7 663.8,692.8 657.8,692.8 651.8,692.9 645.8,693.0 639.8,693.1 633.8,693.2 627.8,693.3 621.8,693.5 615.8,693.7 609.8,693.9 603.8,694.1 597.8,694.4 591.8,694.7 585.8,695.0 579.8,695.3 573.8,695.6 567.8,696.0 561.8,696.3 555.8,696.7 549.8,697.1 543.8,697.6 537.8,698.0 531.8,698.5 525.8,699.0 519.8,699.5 513.8,700.0 507.8,700.6 501.8,701.1 495.8,701.7 489.8,702.3 483.8,702.9 477.8,703.6 471.8,704.2 465.8,704.9 459.8,705.6 453.8,706.3 447.8,707.0 441.8,707.8 435.8,708.5 429.8,709.3 423.8,710.1 417.8,710.9 411.8,711.7 405.8,712.5 399.8,713.4 393.8,714.3 387.8,715.1 381.8,716.0 375.8,717.0 369.8,717.9 363.8,718.8 357.8,719.8 351.8,720.7 345.8,721.7 339.8,722.7 333.8,723.7 327.8,724.7 321.8,725.7 315.8,726.8 309.8,727.8 303.8,728.9 297.8,730.0 291.8,731.0 285.8,732.1 279.8,733.2 273.8,734.3 267.8,735.4 261.8,736.5 255.8,737.7 249.8,738.8 243.8,739.9 237.8,741.1 231.8,742.2 225.8,743.4 219.8,744.6 213.8,745.7 207.8,746.9 201.8,748.1 195.8,749.3 189.8,750.4 183.8,751.6 177.8,752.8 171.8,754.0 165.8,755.2 159.8,756.3 153.8,757.5 147.8,758.7 141.8,759.9 135.8,761.1 129.8,762.3 123.8,763.4 117.8,764.6 111.8,765.8 105.8,766.9 99.8,768.1 93.8,769.2 87.8,770.4 81.8,771.5 75.8,772.6 69.8,773.8 66.9,774.5 64.2,775.4 61.7,776.6 59.5,778.1 57.4,779.9 55.6,781.9 54.0,784.2 52.6,786.8 31.7,830.0" fill="#646769"/>
<polygon points="31.7,830.0 52.6,786.8 54.0,784.2 55.6,781.9 57.4,779.9 59.5,778.1 61.7,776.6 64.2,775.4 66.9,774.5 69.8,773.8 75.8,772.6 81.8,771.5 87.8,770.4 93.8,769.2 99.8,768.1 105.8,766.9 111.8,765.8 117.8,764.6 123.8,763.4 129.8,762.3 135.8,761.1 141.8,759.9 147.8,758.7 153.8,757.5 159.8,756.3 165.8,755.2 171.8,754.0 177.8,752.8 183.8,751.6 189.8,750.4 195.8,749.3 201.8,748.1 207.8,746.9 213.8,745.7 219.8,744.6 225.8,743.4 231.8,742.2 237.8,741.1 243.8,739.9 249.8,738.8 255.8,737.7 261.8,736.5 267.8,735.4 273.8,734.3 279.8,733.2 285.8,732.1 291.8,731.0 297.8,730.0 303.8,728.9 309.8,727.8 315.8,726.8 321.8,725.7 327.8,724.7 333.8,723.7 339.8,722.7 345.8,721.7 351.8,720.7 357.8,719.8 363.8,718.8 369.8,717.9 375.8,717.0 381.8,716.0 387.8,715.1 393.8,714.3 399.8,713.4 405.8,712.5 411.8,711.7 417.8,710.9 423.8,710.1 429.8,709.3 435.8,708.5 441.8,707.8 447.8,707.0 453.8,706.3 459.8,705.6 465.8,704.9 471.8,704.2 477.8,703.6 483.8,702.9 489.8,702.3 495.8,701.7 501.8,701.1 507.8,700.6 513.8,700.0 519.8,699.5 525.8,699.0 531.8,698.5 537.8,698.0 543.8,697.6 549.8,697.1 555.8,696.7 561.8,696.3 567.8,696.0 573.8,695.6 579.8,695.3 585.8,695.0 591.8,694.7 597.8,694.4 603.8,694.1 609.8,693.9 615.8,693.7 621.8,693.5 627.8,693.3 633.8,693.2 639.8,693.1 645.8,693.0 651.8,692.9 657.8,692.8 663.8,692.8 669.8,692.7 675.8,692.7 681.8,692.7 687.8,692.8 693.8,692.8 699.8,692.9 705.8,693.0 711.8,693.1 717.8,693.2 723.8,693.4 729.8,693.6 735.8,693.8 741.8,694.0 747.8,694.2 753.8,694.5 759.8,694.8 765.8,695.1 771.8,695.4 777.8,695.7 783.8,696.1 789.8,696.4 795.8,696.8 801.8,697.2 807.8,697.7 813.8,698.1 819.8,698.6 825.8,699.1 831.8,699.6 837.8,700.1 843.8,700.6 849.8,701.2 855.8,701.8 861.8,702.3 867.8,703.0 873.8,703.6 879.8,704.2 885.8,704.9 891.8,705.5 897.8,706.2 903.8,706.9 909.8,707.7 915.8,708.4 921.8,709.1 927.8,709.9 933.8,710.7 939.8,711.5 945.8,712.3 951.8,713.1 957.8,713.9 963.8,714.8 969.8,715.6 975.8,716.5 981.8,717.4 987.8,718.3 993.8,719.2 999.8,720.1 1005.8,721.0 1011.8,721.9 1017.8,722.9 1023.8,723.8 1029.8,724.8 1035.8,725.8 1041.8,726.7 1047.8,727.7 1053.8,728.7 1059.8,729.7 1065.8,730.7 1071.8,731.7 1077.8,732.7 1083.8,733.8 1089.8,734.8 1095.8,735.8 1101.8,736.9 1107.8,737.9 1113.8,739.0 1119.8,740.0 1125.8,741.0 1131.8,742.1 1137.8,743.1 1143.8,744.2 1149.8,745.3 1155.8,746.3 1161.8,747.4 1167.8,748.4 1173.8,749.4 1179.8,750.5 1185.8,751.5 1191.8,752.6 1197.8,753.6 1199.3,753.9 1202.0,754.5 1204.3,755.5 1206.2,756.8 1207.6,758.3 1208.6,760.2 1209.1,762.4 1209.1,764.9 1208.7,767.6 1198.4,814.5 1196.7,816.2 1207.0,769.3 1207.4,766.6 1207.4,764.1 1206.9,761.9 1205.9,760.0 1204.5,758.5 1202.7,757.2 1200.4,756.3 1197.6,755.6 1192.4,754.7 1186.4,753.7 1180.4,752.7 1174.4,751.6 1168.4,750.6 1162.4,749.6 1156.4,748.5 1150.4,747.5 1144.4,746.4 1138.4,745.4 1132.4,744.4 1126.4,743.3 1120.4,742.3 1114.4,741.2 1108.4,740.2 1102.4,739.1 1096.4,738.1 1090.4,737.1 1084.4,736.0 1078.4,735.0 1072.4,734.0 1066.4,733.0 1060.4,732.0 1054.4,731.0 1048.4,730.0 1042.4,729.0 1036.4,728.0 1030.4,727.0 1024.4,726.0 1018.4,725.1 1012.4,724.1 1006.4,723.2 1000.4,722.3 994.4,721.3 988.4,720.4 982.4,719.5 976.4,718.6 970.4,717.7 964.4,716.9 958.4,716.0 952.4,715.2 946.4,714.4 940.4,713.5 934.4,712.7 928.4,711.9 922.4,711.2 916.4,710.4 910.4,709.7 904.4,708.9 898.4,708.2 892.4,707.5 886.4,706.8 880.4,706.2 874.4,705.5 868.4,704.9 862.4,704.3 856.4,703.7 850.4,703.1 844.4,702.5 838.4,702.0 832.4,701.4 826.4,700.9 820.4,700.4 814.4,700.0 808.4,699.5 802.4,699.1 796.4,698.6 790.4,698.2 784.4,697.9 778.4,697.5 772.4,697.2 766.4,696.8 760.4,696.5 754.4,696.3 748.4,696.0 742.4,695.7 736.4,695.5 730.4,695.3 724.4,695.1 718.4,695.0 712.4,694.8 706.4,694.7 700.4,694.6 694.4,694.6 688.4,694.5 682.4,694.5 676.4,694.4 670.4,694.5 664.4,694.5 658.4,694.5 652.4,694.6 646.4,694.7 640.4,694.8 634.4,694.9 628.4,695.1 622.4,695.3 616.4,695.4 610.4,695.7 604.4,695.9 598.4,696.2 592.4,696.4 586.4,696.7 580.4,697.1 574.4,697.4 568.4,697.7 562.4,698.1 556.4,698.5 550.4,698.9 544.4,699.4 538.4,699.8 532.4,700.3 526.4,700.8 520.4,701.3 514.4,701.9 508.4,702.4 502.4,703.0 496.4,703.6 490.4,704.2 484.4,704.8 478.4,705.5 472.4,706.2 466.4,706.9 460.4,707.6 454.4,708.3 448.4,709.0 442.4,709.8 436.4,710.5 430.4,711.3 424.4,712.1 418.4,712.9 412.4,713.8 406.4,714.6 400.4,715.5 394.4,716.4 388.4,717.3 382.4,718.2 376.4,719.1 370.4,720.1 364.4,721.0 358.4,722.0 352.4,722.9 346.4,723.9 340.4,724.9 334.4,726.0 328.4,727.0 322.4,728.0 316.4,729.1 310.4,730.1 304.4,731.2 298.4,732.3 292.4,733.3 286.4,734.4 280.4,735.5 274.4,736.7 268.4,737.8 262.4,738.9 256.4,740.0 250.4,741.2 244.4,742.3 238.4,743.5 232.4,744.6 226.4,745.8 220.4,746.9 214.4,748.1 208.4,749.3 202.4,750.4 196.4,751.6 190.4,752.8 184.4,754.0 178.4,755.1 172.4,756.3 166.4,757.5 160.4,758.7 154.4,759.8 148.4,761.0 142.4,762.2 136.4,763.4 130.4,764.5 124.4,765.7 118.4,766.8 112.4,768.0 106.4,769.1 100.4,770.2 94.4,771.4 88.4,772.5 82.4,773.6 76.4,774.7 70.4,775.8 67.6,776.4 64.9,777.4 62.4,778.6 60.1,780.1 58.1,781.8 56.3,783.9 54.6,786.2 53.2,788.7 32.4,832.0" fill="#3c3f41"/>
<polygon points="32.4,832.0 53.2,788.7 54.6,786.2 56.3,783.9 58.1,781.8 60.1,780.1 62.4,778.6 64.9,777.4 67.6,776.4 70.4,775.8 76.4,774.7 82.4,773.6 88.4,772.5 94.4,771.4 100.4,770.2 106.4,769.1 112.4,768.0 118.4,766.8 124.4,765.7 130.4,764.5 136.4,763.4 142.4,762.2 148.4,761.0 154.4,759.8 160.4,758.7 166.4,757.5 172.4,756.3 178.4,755.1 184.4,754.0 190.4,752.8 196.4,751.6 202.4,750.4 208.4,749.3 214.4,748.1 220.4,746.9 226.4,745.8 232.4,744.6 238.4,743.5 244.4,742.3 250.4,741.2 256.4,740.0 262.4,738.9 268.4,737.8 274.4,736.7 280.4,735.5 286.4,734.4 292.4,733.3 298.4,732.3 304.4,731.2 310.4,730.1 316.4,729.1 322.4,728.0 328.4,727.0 334.4,726.0 340.4,724.9 346.4,723.9 352.4,722.9 358.4,722.0 364.4,721.0 370.4,720.1 376.4,719.1 382.4,718.2 388.4,717.3 394.4,716.4 400.4,715.5 406.4,714.6 412.4,713.8 418.4,712.9 424.4,712.1 430.4,711.3 436.4,710.5 442.4,709.8 448.4,709.0 454.4,708.3 460.4,707.6 466.4,706.9 472.4,706.2 478.4,705.5 484.4,704.8 490.4,704.2 496.4,703.6 502.4,703.0 508.4,702.4 514.4,701.9 520.4,701.3 526.4,700.8 532.4,700.3 538.4,699.8 544.4,699.4 550.4,698.9 556.4,698.5 562.4,698.1 568.4,697.7 574.4,697.4 580.4,697.1 586.4,696.7 592.4,696.4 598.4,696.2 604.4,695.9 610.4,695.7 616.4,695.4 622.4,695.3 628.4,695.1 634.4,694.9 640.4,694.8 646.4,694.7 652.4,694.6 658.4,694.5 664.4,694.5 670.4,694.5 676.4,694.4 682.4,694.5 688.4,694.5 694.4,694.6 700.4,694.6 706.4,694.7 712.4,694.8 718.4,695.0 724.4,695.1 730.4,695.3 736.4,695.5 742.4,695.7 748.4,696.0 754.4,696.3 760.4,696.5 766.4,696.8 772.4,697.2 778.4,697.5 784.4,697.9 790.4,698.2 796.4,698.6 802.4,699.1 808.4,699.5 814.4,700.0 820.4,700.4 826.4,700.9 832.4,701.4 838.4,702.0 844.4,702.5 850.4,703.1 856.4,703.7 862.4,704.3 868.4,704.9 874.4,705.5 880.4,706.2 886.4,706.8 892.4,707.5 898.4,708.2 904.4,708.9 910.4,709.7 916.4,710.4 922.4,711.2 928.4,711.9 934.4,712.7 940.4,713.5 946.4,714.4 952.4,715.2 958.4,716.0 964.4,716.9 970.4,717.7 976.4,718.6 982.4,719.5 988.4,720.4 994.4,721.3 1000.4,722.3 1006.4,723.2 1012.4,724.1 1018.4,725.1 1024.4,726.0 1030.4,727.0 1036.4,728.0 1042.4,729.0 1048.4,730.0 1054.4,731.0 1060.4,732.0 1066.4,733.0 1072.4,734.0 1078.4,735.0 1084.4,736.0 1090.4,737.1 1096.4,738.1 1102.4,739.1 1108.4,740.2 1114.4,741.2 1120.4,742.3 1126.4,743.3 1132.4,744.4 1138.4,745.4 1144.4,746.4 1150.4,747.5 1156.4,748.5 1162.4,749.6 1168.4,750.6 1174.4,751.6 1180.4,752.7 1186.4,753.7 1192.4,754.7 1197.6,755.6 1200.4,756.3 1202.7,757.2 1204.5,758.5 1205.9,760.0 1206.9,761.9 1207.4,764.1 1207.4,766.6 1207.0,769.3 1196.7,816.2 1193.0,820.0 1203.3,773.1 1203.7,770.3 1203.7,767.9 1203.2,765.7 1202.3,763.8 1200.8,762.3 1199.0,761.0 1196.7,760.1 1193.9,759.4 1187.9,758.5 1181.9,757.5 1175.9,756.5 1169.9,755.5 1163.9,754.5 1157.9,753.4 1151.9,752.4 1145.9,751.4 1139.9,750.4 1133.9,749.3 1127.9,748.3 1121.9,747.3 1115.9,746.2 1109.9,745.2 1103.9,744.1 1097.9,743.1 1091.9,742.1 1085.9,741.0 1079.9,740.0 1073.9,739.0 1067.9,738.0 1061.9,736.9 1055.9,735.9 1049.9,734.9 1043.9,733.9 1037.9,732.9 1031.9,731.9 1025.9,730.9 1019.9,729.9 1013.9,729.0 1007.9,728.0 1001.9,727.1 995.9,726.1 989.9,725.2 983.9,724.3 977.9,723.3 971.9,722.4 965.9,721.5 959.9,720.7 953.9,719.8 947.9,718.9 941.9,718.1 935.9,717.3 929.9,716.5 923.9,715.7 917.9,714.9 911.9,714.1 905.9,713.3 899.9,712.6 893.9,711.9 887.9,711.2 881.9,710.5 875.9,709.8 869.9,709.1 863.9,708.5 857.9,707.9 851.9,707.3 845.9,706.7 839.9,706.1 833.9,705.6 827.9,705.0 821.9,704.5 815.9,704.0 809.9,703.5 803.9,703.1 797.9,702.6 791.9,702.2 785.9,701.8 779.9,701.4 773.9,701.1 767.9,700.7 761.9,700.4 755.9,700.1 749.9,699.9 743.9,699.6 737.9,699.4 731.9,699.2 725.9,699.0 719.9,698.8 713.9,698.7 707.9,698.5 701.9,698.4 695.9,698.4 689.9,698.3 683.9,698.3 677.9,698.2 671.9,698.2 665.9,698.3 659.9,698.3 653.9,698.4 647.9,698.5 641.9,698.6 635.9,698.7 629.9,698.9 623.9,699.1 617.9,699.3 611.9,699.5 605.9,699.8 599.9,700.0 593.9,700.3 587.9,700.6 581.9,701.0 575.9,701.3 569.9,701.7 563.9,702.1 557.9,702.5 551.9,702.9 545.9,703.4 539.9,703.9 533.9,704.4 527.9,704.9 521.9,705.4 515.9,706.0 509.9,706.6 503.9,707.2 497.9,707.8 491.9,708.4 485.9,709.1 479.9,709.8 473.9,710.4 467.9,711.2 461.9,711.9 455.9,712.6 449.9,713.4 443.9,714.2 437.9,715.0 431.9,715.8 425.9,716.6 419.9,717.5 413.9,718.3 407.9,719.2 401.9,720.1 395.9,721.0 389.9,722.0 383.9,722.9 377.9,723.8 371.9,724.8 365.9,725.8 359.9,726.8 353.9,727.8 347.9,728.8 341.9,729.8 335.9,730.9 329.9,731.9 323.9,733.0 317.9,734.1 311.9,735.1 305.9,736.2 299.9,737.3 293.9,738.4 287.9,739.5 281.9,740.7 275.9,741.8 269.9,742.9 263.9,744.1 257.9,745.2 251.9,746.4 245.9,747.5 239.9,748.7 233.9,749.8 227.9,751.0 221.9,752.2 215.9,753.3 209.9,754.5 203.9,755.7 197.9,756.8 191.9,758.0 185.9,759.2 179.9,760.3 173.9,761.5 167.9,762.7 161.9,763.8 155.9,765.0 149.9,766.1 143.9,767.2 137.9,768.4 131.9,769.5 125.9,770.6 119.9,771.7 113.9,772.8 107.9,773.9 101.9,775.0 95.9,776.1 89.9,777.1 83.9,778.2 77.9,779.2 71.9,780.2 69.0,780.9 66.3,781.8 63.9,783.0 61.6,784.4 59.6,786.2 57.7,788.2 56.1,790.5 54.7,793.0 33.8,836.3" fill="#85888a"/>
<polygon points="33.8,836.3 55.6,791.2 56.7,789.1 58.1,787.2 59.6,785.5 61.3,784.0 63.2,782.8 65.3,781.8 67.5,781.1 69.9,780.6 75.9,779.5 81.9,778.5 87.9,777.5 93.9,776.4 99.9,775.4 105.9,774.3 111.9,773.2 117.9,772.1 123.9,771.0 129.9,769.9 135.9,768.8 141.9,767.6 147.9,766.5 153.9,765.3 159.9,764.2 165.9,763.0 171.9,761.9 177.9,760.7 183.9,759.6 189.9,758.4 195.9,757.2 201.9,756.1 207.9,754.9 213.9,753.7 219.9,752.6 225.9,751.4 231.9,750.2 237.9,749.1 243.9,747.9 249.9,746.7 255.9,745.6 261.9,744.4 267.9,743.3 273.9,742.2 279.9,741.0 285.9,739.9 291.9,738.8 297.9,737.7 303.9,736.6 309.9,735.5 315.9,734.4 321.9,733.3 327.9,732.3 333.9,731.2 339.9,730.2 345.9,729.2 351.9,728.1 357.9,727.1 363.9,726.1 369.9,725.1 375.9,724.2 381.9,723.2 387.9,722.3 393.9,721.3 399.9,720.4 405.9,719.5 411.9,718.6 417.9,717.8 423.9,716.9 429.9,716.1 435.9,715.3 441.9,714.4 447.9,713.7 453.9,712.9 459.9,712.1 465.9,711.4 471.9,710.7 477.9,710.0 483.9,709.3 489.9,708.6 495.9,708.0 501.9,707.4 507.9,706.8 513.9,706.2 519.9,705.6 525.9,705.1 531.9,704.5 537.9,704.0 543.9,703.5 549.9,703.1 555.9,702.6 561.9,702.2 567.9,701.8 573.9,701.4 579.9,701.1 585.9,700.7 591.9,700.4 597.9,700.1 603.9,699.8 609.9,699.6 615.9,699.4 621.9,699.1 627.9,699.0 633.9,698.8 639.9,698.6 645.9,698.5 651.9,698.4 657.9,698.3 663.9,698.3 669.9,698.2 675.9,698.2 681.9,698.2 687.9,698.3 693.9,698.3 699.9,698.4 705.9,698.5 711.9,698.6 717.9,698.8 723.9,698.9 729.9,699.1 735.9,699.3 741.9,699.5 747.9,699.8 753.9,700.0 759.9,700.3 765.9,700.6 771.9,701.0 777.9,701.3 783.9,701.7 789.9,702.1 795.9,702.5 801.9,702.9 807.9,703.4 813.9,703.8 819.9,704.3 825.9,704.8 831.9,705.4 837.9,705.9 843.9,706.5 849.9,707.1 855.9,707.7 861.9,708.3 867.9,708.9 873.9,709.6 879.9,710.2 885.9,710.9 891.9,711.6 897.9,712.4 903.9,713.1 909.9,713.8 915.9,714.6 921.9,715.4 927.9,716.2 933.9,717.0 939.9,717.8 945.9,718.7 951.9,719.5 957.9,720.4 963.9,721.3 969.9,722.1 975.9,723.0 981.9,723.9 987.9,724.9 993.9,725.8 999.9,726.7 1005.9,727.7 1011.9,728.7 1017.9,729.6 1023.9,730.6 1029.9,731.6 1035.9,732.6 1041.9,733.6 1047.9,734.6 1053.9,735.6 1059.9,736.6 1065.9,737.6 1071.9,738.6 1077.9,739.7 1083.9,740.7 1089.9,741.7 1095.9,742.8 1101.9,743.8 1107.9,744.8 1113.9,745.9 1119.9,746.9 1125.9,748.0 1131.9,749.0 1137.9,750.0 1143.9,751.0 1149.9,752.1 1155.9,753.1 1161.9,754.1 1167.9,755.1 1173.9,756.1 1179.9,757.1 1185.9,758.1 1191.9,759.1 1195.9,759.8 1198.2,760.3 1200.1,761.1 1201.7,762.1 1202.9,763.4 1203.6,765.0 1204.1,766.8 1204.1,768.8 1203.7,771.2 1193.0,820.0 1193.0,860.0 33.8,860.0" fill="#2b2e30"/>
<polygon points="33.8,836.3 55.6,791.2 56.7,789.1 58.1,787.2 59.6,785.5 61.3,784.0 63.2,782.8 65.3,781.8 67.5,781.1 69.9,780.6 75.9,779.5 81.9,778.5 87.9,777.5 93.9,776.4 99.9,775.4 105.9,774.3 111.9,773.2 117.9,772.1 123.9,771.0 129.9,769.9 135.9,768.8 141.9,767.6 147.9,766.5 153.9,765.3 159.9,764.2 165.9,763.0 171.9,761.9 177.9,760.7 183.9,759.6 189.9,758.4 195.9,757.2 201.9,756.1 207.9,754.9 213.9,753.7 219.9,752.6 225.9,751.4 231.9,750.2 237.9,749.1 243.9,747.9 249.9,746.7 255.9,745.6 261.9,744.4 267.9,743.3 273.9,742.2 279.9,741.0 285.9,739.9 291.9,738.8 297.9,737.7 303.9,736.6 309.9,735.5 315.9,734.4 321.9,733.3 327.9,732.3 333.9,731.2 339.9,730.2 345.9,729.2 351.9,728.1 357.9,727.1 363.9,726.1 369.9,725.1 375.9,724.2 381.9,723.2 387.9,722.3 393.9,721.3 399.9,720.4 405.9,719.5 411.9,718.6 417.9,717.8 423.9,716.9 429.9,716.1 435.9,715.3 441.9,714.4 447.9,713.7 453.9,712.9 459.9,712.1 465.9,711.4 471.9,710.7 477.9,710.0 483.9,709.3 489.9,708.6 495.9,708.0 501.9,707.4 507.9,706.8 513.9,706.2 519.9,705.6 525.9,705.1 531.9,704.5 537.9,704.0 543.9,703.5 549.9,703.1 555.9,702.6 561.9,702.2 567.9,701.8 573.9,701.4 579.9,701.1 585.9,700.7 591.9,700.4 597.9,700.1 603.9,699.8 609.9,699.6 615.9,699.4 621.9,699.1 627.9,699.0 633.9,698.8 639.9,698.6 645.9,698.5 651.9,698.4 657.9,698.3 663.9,698.3 669.9,698.2 675.9,698.2 681.9,698.2 687.9,698.3 693.9,698.3 699.9,698.4 705.9,698.5 711.9,698.6 717.9,698.8 723.9,698.9 729.9,699.1 735.9,699.3 741.9,699.5 747.9,699.8 753.9,700.0 759.9,700.3 765.9,700.6 771.9,701.0 777.9,701.3 783.9,701.7 789.9,702.1 795.9,702.5 801.9,702.9 807.9,703.4 813.9,703.8 819.9,704.3 825.9,704.8 831.9,705.4 837.9,705.9 843.9,706.5 849.9,707.1 855.9,707.7 861.9,708.3 867.9,708.9 873.9,709.6 879.9,710.2 885.9,710.9 891.9,711.6 897.9,712.4 903.9,713.1 909.9,713.8 915.9,714.6 921.9,715.4 927.9,716.2 933.9,717.0 939.9,717.8 945.9,718.7 951.9,719.5 957.9,720.4 963.9,721.3 969.9,722.1 975.9,723.0 981.9,723.9 987.9,724.9 993.9,725.8 999.9,726.7 1005.9,727.7 1011.9,728.7 1017.9,729.6 1023.9,730.6 1029.9,731.6 1035.9,732.6 1041.9,733.6 1047.9,734.6 1053.9,735.6 1059.9,736.6 1065.9,737.6 1071.9,738.6 1077.9,739.7 1083.9,740.7 1089.9,741.7 1095.9,742.8 1101.9,743.8 1107.9,744.8 1113.9,745.9 1119.9,746.9 1125.9,748.0 1131.9,749.0 1137.9,750.0 1143.9,751.0 1149.9,752.1 1155.9,753.1 1161.9,754.1 1167.9,755.1 1173.9,756.1 1179.9,757.1 1185.9,758.1 1191.9,759.1 1195.9,759.8 1198.2,760.3 1200.1,761.1 1201.7,762.1 1202.9,763.4 1203.6,765.0 1204.1,766.8 1204.1,768.8 1203.7,771.2 1193.0,820.0 1193.0,822.0 1203.7,773.2 1204.1,770.8 1204.1,768.8 1203.6,767.0 1202.9,765.4 1201.7,764.1 1200.1,763.1 1198.2,762.3 1195.9,761.8 1191.9,761.1 1185.9,760.1 1179.9,759.1 1173.9,758.1 1167.9,757.1 1161.9,756.1 1155.9,755.1 1149.9,754.1 1143.9,753.0 1137.9,752.0 1131.9,751.0 1125.9,750.0 1119.9,748.9 1113.9,747.9 1107.9,746.8 1101.9,745.8 1095.9,744.8 1089.9,743.7 1083.9,742.7 1077.9,741.7 1071.9,740.6 1065.9,739.6 1059.9,738.6 1053.9,737.6 1047.9,736.6 1041.9,735.6 1035.9,734.6 1029.9,733.6 1023.9,732.6 1017.9,731.6 1011.9,730.7 1005.9,729.7 999.9,728.7 993.9,727.8 987.9,726.9 981.9,725.9 975.9,725.0 969.9,724.1 963.9,723.3 957.9,722.4 951.9,721.5 945.9,720.7 939.9,719.8 933.9,719.0 927.9,718.2 921.9,717.4 915.9,716.6 909.9,715.8 903.9,715.1 897.9,714.4 891.9,713.6 885.9,712.9 879.9,712.2 873.9,711.6 867.9,710.9 861.9,710.3 855.9,709.7 849.9,709.1 843.9,708.5 837.9,707.9 831.9,707.4 825.9,706.8 819.9,706.3 813.9,705.8 807.9,705.4 801.9,704.9 795.9,704.5 789.9,704.1 783.9,703.7 777.9,703.3 771.9,703.0 765.9,702.6 759.9,702.3 753.9,702.0 747.9,701.8 741.9,701.5 735.9,701.3 729.9,701.1 723.9,700.9 717.9,700.8 711.9,700.6 705.9,700.5 699.9,700.4 693.9,700.3 687.9,700.3 681.9,700.2 675.9,700.2 669.9,700.2 663.9,700.3 657.9,700.3 651.9,700.4 645.9,700.5 639.9,700.6 633.9,700.8 627.9,701.0 621.9,701.1 615.9,701.4 609.9,701.6 603.9,701.8 597.9,702.1 591.9,702.4 585.9,702.7 579.9,703.1 573.9,703.4 567.9,703.8 561.9,704.2 555.9,704.6 549.9,705.1 543.9,705.5 537.9,706.0 531.9,706.5 525.9,707.1 519.9,707.6 513.9,708.2 507.9,708.8 501.9,709.4 495.9,710.0 489.9,710.6 483.9,711.3 477.9,712.0 471.9,712.7 465.9,713.4 459.9,714.1 453.9,714.9 447.9,715.7 441.9,716.4 435.9,717.3 429.9,718.1 423.9,718.9 417.9,719.8 411.9,720.6 405.9,721.5 399.9,722.4 393.9,723.3 387.9,724.3 381.9,725.2 375.9,726.2 369.9,727.1 363.9,728.1 357.9,729.1 351.9,730.1 345.9,731.2 339.9,732.2 333.9,733.2 327.9,734.3 321.9,735.3 315.9,736.4 309.9,737.5 303.9,738.6 297.9,739.7 291.9,740.8 285.9,741.9 279.9,743.0 273.9,744.2 267.9,745.3 261.9,746.4 255.9,747.6 249.9,748.7 243.9,749.9 237.9,751.1 231.9,752.2 225.9,753.4 219.9,754.6 213.9,755.7 207.9,756.9 201.9,758.1 195.9,759.2 189.9,760.4 183.9,761.6 177.9,762.7 171.9,763.9 165.9,765.0 159.9,766.2 153.9,767.3 147.9,768.5 141.9,769.6 135.9,770.8 129.9,771.9 123.9,773.0 117.9,774.1 111.9,775.2 105.9,776.3 99.9,777.4 93.9,778.4 87.9,779.5 81.9,780.5 75.9,781.5 69.9,782.6 67.5,783.1 65.3,783.8 63.2,784.8 61.3,786.0 59.6,787.5 58.1,789.2 56.7,791.1 55.6,793.2 33.8,838.3" fill="#3e4143"/>
<polygon points="33.8,838.3 55.6,793.2 56.7,791.1 58.1,789.2 59.6,787.5 61.3,786.0 63.2,784.8 65.3,783.8 67.5,783.1 69.9,782.6 75.9,781.5 81.9,780.5 87.9,779.5 93.9,778.4 99.9,777.4 105.9,776.3 111.9,775.2 117.9,774.1 123.9,773.0 129.9,771.9 135.9,770.8 141.9,769.6 147.9,768.5 153.9,767.3 159.9,766.2 165.9,765.0 171.9,763.9 177.9,762.7 183.9,761.6 189.9,760.4 195.9,759.2 201.9,758.1 207.9,756.9 213.9,755.7 219.9,754.6 225.9,753.4 231.9,752.2 237.9,751.1 243.9,749.9 249.9,748.7 255.9,747.6 261.9,746.4 267.9,745.3 273.9,744.2 279.9,743.0 285.9,741.9 291.9,740.8 297.9,739.7 303.9,738.6 309.9,737.5 315.9,736.4 321.9,735.3 327.9,734.3 333.9,733.2 339.9,732.2 345.9,731.2 351.9,730.1 357.9,729.1 363.9,728.1 369.9,727.1 375.9,726.2 381.9,725.2 387.9,724.3 393.9,723.3 399.9,722.4 405.9,721.5 411.9,720.6 417.9,719.8 423.9,718.9 429.9,718.1 435.9,717.3 441.9,716.4 447.9,715.7 453.9,714.9 459.9,714.1 465.9,713.4 471.9,712.7 477.9,712.0 483.9,711.3 489.9,710.6 495.9,710.0 501.9,709.4 507.9,708.8 513.9,708.2 519.9,707.6 525.9,707.1 531.9,706.5 537.9,706.0 543.9,705.5 549.9,705.1 555.9,704.6 561.9,704.2 567.9,703.8 573.9,703.4 579.9,703.1 585.9,702.7 591.9,702.4 597.9,702.1 603.9,701.8 609.9,701.6 615.9,701.4 621.9,701.1 627.9,701.0 633.9,700.8 639.9,700.6 645.9,700.5 651.9,700.4 657.9,700.3 663.9,700.3 669.9,700.2 675.9,700.2 681.9,700.2 687.9,700.3 693.9,700.3 699.9,700.4 705.9,700.5 711.9,700.6 717.9,700.8 723.9,700.9 729.9,701.1 735.9,701.3 741.9,701.5 747.9,701.8 753.9,702.0 759.9,702.3 765.9,702.6 771.9,703.0 777.9,703.3 783.9,703.7 789.9,704.1 795.9,704.5 801.9,704.9 807.9,705.4 813.9,705.8 819.9,706.3 825.9,706.8 831.9,707.4 837.9,707.9 843.9,708.5 849.9,709.1 855.9,709.7 861.9,710.3 867.9,710.9 873.9,711.6 879.9,712.2 885.9,712.9 891.9,713.6 897.9,714.4 903.9,715.1 909.9,715.8 915.9,716.6 921.9,717.4 927.9,718.2 933.9,719.0 939.9,719.8 945.9,720.7 951.9,721.5 957.9,722.4 963.9,723.3 969.9,724.1 975.9,725.0 981.9,725.9 987.9,726.9 993.9,727.8 999.9,728.7 1005.9,729.7 1011.9,730.7 1017.9,731.6 1023.9,732.6 1029.9,733.6 1035.9,734.6 1041.9,735.6 1047.9,736.6 1053.9,737.6 1059.9,738.6 1065.9,739.6 1071.9,740.6 1077.9,741.7 1083.9,742.7 1089.9,743.7 1095.9,744.8 1101.9,745.8 1107.9,746.8 1113.9,747.9 1119.9,748.9 1125.9,750.0 1131.9,751.0 1137.9,752.0 1143.9,753.0 1149.9,754.1 1155.9,755.1 1161.9,756.1 1167.9,757.1 1173.9,758.1 1179.9,759.1 1185.9,760.1 1191.9,761.1 1195.9,761.8 1198.2,762.3 1200.1,763.1 1201.7,764.1 1202.9,765.4 1203.6,767.0 1204.1,768.8 1204.1,770.8 1203.7,773.2 1193.0,822.0 1193.0,824.5 1203.7,775.7 1204.1,773.3 1204.1,771.3 1203.6,769.5 1202.9,767.9 1201.7,766.6 1200.1,765.6 1198.2,764.8 1195.9,764.3 1191.9,763.6 1185.9,762.6 1179.9,761.6 1173.9,760.6 1167.9,759.6 1161.9,758.6 1155.9,757.6 1149.9,756.6 1143.9,755.5 1137.9,754.5 1131.9,753.5 1125.9,752.5 1119.9,751.4 1113.9,750.4 1107.9,749.3 1101.9,748.3 1095.9,747.3 1089.9,746.2 1083.9,745.2 1077.9,744.2 1071.9,743.1 1065.9,742.1 1059.9,741.1 1053.9,740.1 1047.9,739.1 1041.9,738.1 1035.9,737.1 1029.9,736.1 1023.9,735.1 1017.9,734.1 1011.9,733.2 1005.9,732.2 999.9,731.2 993.9,730.3 987.9,729.4 981.9,728.4 975.9,727.5 969.9,726.6 963.9,725.8 957.9,724.9 951.9,724.0 945.9,723.2 939.9,722.3 933.9,721.5 927.9,720.7 921.9,719.9 915.9,719.1 909.9,718.3 903.9,717.6 897.9,716.9 891.9,716.1 885.9,715.4 879.9,714.7 873.9,714.1 867.9,713.4 861.9,712.8 855.9,712.2 849.9,711.6 843.9,711.0 837.9,710.4 831.9,709.9 825.9,709.3 819.9,708.8 813.9,708.3 807.9,707.9 801.9,707.4 795.9,707.0 789.9,706.6 783.9,706.2 777.9,705.8 771.9,705.5 765.9,705.1 759.9,704.8 753.9,704.5 747.9,704.3 741.9,704.0 735.9,703.8 729.9,703.6 723.9,703.4 717.9,703.3 711.9,703.1 705.9,703.0 699.9,702.9 693.9,702.8 687.9,702.8 681.9,702.7 675.9,702.7 669.9,702.7 663.9,702.8 657.9,702.8 651.9,702.9 645.9,703.0 639.9,703.1 633.9,703.3 627.9,703.5 621.9,703.6 615.9,703.9 609.9,704.1 603.9,704.3 597.9,704.6 591.9,704.9 585.9,705.2 579.9,705.6 573.9,705.9 567.9,706.3 561.9,706.7 555.9,707.1 549.9,707.6 543.9,708.0 537.9,708.5 531.9,709.0 525.9,709.6 519.9,710.1 513.9,710.7 507.9,711.3 501.9,711.9 495.9,712.5 489.9,713.1 483.9,713.8 477.9,714.5 471.9,715.2 465.9,715.9 459.9,716.6 453.9,717.4 447.9,718.2 441.9,718.9 435.9,719.8 429.9,720.6 423.9,721.4 417.9,722.3 411.9,723.1 405.9,724.0 399.9,724.9 393.9,725.8 387.9,726.8 381.9,727.7 375.9,728.7 369.9,729.6 363.9,730.6 357.9,731.6 351.9,732.6 345.9,733.7 339.9,734.7 333.9,735.7 327.9,736.8 321.9,737.8 315.9,738.9 309.9,740.0 303.9,741.1 297.9,742.2 291.9,743.3 285.9,744.4 279.9,745.5 273.9,746.7 267.9,747.8 261.9,748.9 255.9,750.1 249.9,751.2 243.9,752.4 237.9,753.6 231.9,754.7 225.9,755.9 219.9,757.1 213.9,758.2 207.9,759.4 201.9,760.6 195.9,761.7 189.9,762.9 183.9,764.1 177.9,765.2 171.9,766.4 165.9,767.5 159.9,768.7 153.9,769.8 147.9,771.0 141.9,772.1 135.9,773.3 129.9,774.4 123.9,775.5 117.9,776.6 111.9,777.7 105.9,778.8 99.9,779.9 93.9,780.9 87.9,782.0 81.9,783.0 75.9,784.0 69.9,785.1 67.5,785.6 65.3,786.3 63.2,787.3 61.3,788.5 59.6,790.0 58.1,791.7 56.7,793.6 55.6,795.7 33.8,840.8" fill="#36393b"/>
<polygon points="33.8,840.8 55.6,795.7 56.7,793.6 58.1,791.7 59.6,790.0 61.3,788.5 63.2,787.3 65.3,786.3 67.5,785.6 69.9,785.1 75.9,784.0 81.9,783.0 87.9,782.0 93.9,780.9 99.9,779.9 105.9,778.8 111.9,777.7 117.9,776.6 123.9,775.5 129.9,774.4 135.9,773.3 141.9,772.1 147.9,771.0 153.9,769.8 159.9,768.7 165.9,767.5 171.9,766.4 177.9,765.2 183.9,764.1 189.9,762.9 195.9,761.7 201.9,760.6 207.9,759.4 213.9,758.2 219.9,757.1 225.9,755.9 231.9,754.7 237.9,753.6 243.9,752.4 249.9,751.2 255.9,750.1 261.9,748.9 267.9,747.8 273.9,746.7 279.9,745.5 285.9,744.4 291.9,743.3 297.9,742.2 303.9,741.1 309.9,740.0 315.9,738.9 321.9,737.8 327.9,736.8 333.9,735.7 339.9,734.7 345.9,733.7 351.9,732.6 357.9,731.6 363.9,730.6 369.9,729.6 375.9,728.7 381.9,727.7 387.9,726.8 393.9,725.8 399.9,724.9 405.9,724.0 411.9,723.1 417.9,722.3 423.9,721.4 429.9,720.6 435.9,719.8 441.9,718.9 447.9,718.2 453.9,717.4 459.9,716.6 465.9,715.9 471.9,715.2 477.9,714.5 483.9,713.8 489.9,713.1 495.9,712.5 501.9,711.9 507.9,711.3 513.9,710.7 519.9,710.1 525.9,709.6 531.9,709.0 537.9,708.5 543.9,708.0 549.9,707.6 555.9,707.1 561.9,706.7 567.9,706.3 573.9,705.9 579.9,705.6 585.9,705.2 591.9,704.9 597.9,704.6 603.9,704.3 609.9,704.1 615.9,703.9 621.9,703.6 627.9,703.5 633.9,703.3 639.9,703.1 645.9,703.0 651.9,702.9 657.9,702.8 663.9,702.8 669.9,702.7 675.9,702.7 681.9,702.7 687.9,702.8 693.9,702.8 699.9,702.9 705.9,703.0 711.9,703.1 717.9,703.3 723.9,703.4 729.9,703.6 735.9,703.8 741.9,704.0 747.9,704.3 753.9,704.5 759.9,704.8 765.9,705.1 771.9,705.5 777.9,705.8 783.9,706.2 789.9,706.6 795.9,707.0 801.9,707.4 807.9,707.9 813.9,708.3 819.9,708.8 825.9,709.3 831.9,709.9 837.9,710.4 843.9,711.0 849.9,711.6 855.9,712.2 861.9,712.8 867.9,713.4 873.9,714.1 879.9,714.7 885.9,715.4 891.9,716.1 897.9,716.9 903.9,717.6 909.9,718.3 915.9,719.1 921.9,719.9 927.9,720.7 933.9,721.5 939.9,722.3 945.9,723.2 951.9,724.0 957.9,724.9 963.9,725.8 969.9,726.6 975.9,727.5 981.9,728.4 987.9,729.4 993.9,730.3 999.9,731.2 1005.9,732.2 1011.9,733.2 1017.9,734.1 1023.9,735.1 1029.9,736.1 1035.9,737.1 1041.9,738.1 1047.9,739.1 1053.9,740.1 1059.9,741.1 1065.9,742.1 1071.9,743.1 1077.9,744.2 1083.9,745.2 1089.9,746.2 1095.9,747.3 1101.9,748.3 1107.9,749.3 1113.9,750.4 1119.9,751.4 1125.9,752.5 1131.9,753.5 1137.9,754.5 1143.9,755.5 1149.9,756.6 1155.9,757.6 1161.9,758.6 1167.9,759.6 1173.9,760.6 1179.9,761.6 1185.9,762.6 1191.9,763.6 1195.9,764.3 1198.2,764.8 1200.1,765.6 1201.7,766.6 1202.9,767.9 1203.6,769.5 1204.1,771.3 1204.1,773.3 1203.7,775.7 1193.0,824.5 1193.0,828.0 1203.7,779.2 1204.1,776.8 1204.1,774.8 1203.6,773.0 1202.9,771.4 1201.7,770.1 1200.1,769.1 1198.2,768.3 1195.9,767.8 1191.9,767.1 1185.9,766.1 1179.9,765.1 1173.9,764.1 1167.9,763.1 1161.9,762.1 1155.9,761.1 1149.9,760.1 1143.9,759.0 1137.9,758.0 1131.9,757.0 1125.9,756.0 1119.9,754.9 1113.9,753.9 1107.9,752.8 1101.9,751.8 1095.9,750.8 1089.9,749.7 1083.9,748.7 1077.9,747.7 1071.9,746.6 1065.9,745.6 1059.9,744.6 1053.9,743.6 1047.9,742.6 1041.9,741.6 1035.9,740.6 1029.9,739.6 1023.9,738.6 1017.9,737.6 1011.9,736.7 1005.9,735.7 999.9,734.7 993.9,733.8 987.9,732.9 981.9,731.9 975.9,731.0 969.9,730.1 963.9,729.3 957.9,728.4 951.9,727.5 945.9,726.7 939.9,725.8 933.9,725.0 927.9,724.2 921.9,723.4 915.9,722.6 909.9,721.8 903.9,721.1 897.9,720.4 891.9,719.6 885.9,718.9 879.9,718.2 873.9,717.6 867.9,716.9 861.9,716.3 855.9,715.7 849.9,715.1 843.9,714.5 837.9,713.9 831.9,713.4 825.9,712.8 819.9,712.3 813.9,711.8 807.9,711.4 801.9,710.9 795.9,710.5 789.9,710.1 783.9,709.7 777.9,709.3 771.9,709.0 765.9,708.6 759.9,708.3 753.9,708.0 747.9,707.8 741.9,707.5 735.9,707.3 729.9,707.1 723.9,706.9 717.9,706.8 711.9,706.6 705.9,706.5 699.9,706.4 693.9,706.3 687.9,706.3 681.9,706.2 675.9,706.2 669.9,706.2 663.9,706.3 657.9,706.3 651.9,706.4 645.9,706.5 639.9,706.6 633.9,706.8 627.9,707.0 621.9,707.1 615.9,707.4 609.9,707.6 603.9,707.8 597.9,708.1 591.9,708.4 585.9,708.7 579.9,709.1 573.9,709.4 567.9,709.8 561.9,710.2 555.9,710.6 549.9,711.1 543.9,711.5 537.9,712.0 531.9,712.5 525.9,713.1 519.9,713.6 513.9,714.2 507.9,714.8 501.9,715.4 495.9,716.0 489.9,716.6 483.9,717.3 477.9,718.0 471.9,718.7 465.9,719.4 459.9,720.1 453.9,720.9 447.9,721.7 441.9,722.4 435.9,723.3 429.9,724.1 423.9,724.9 417.9,725.8 411.9,726.6 405.9,727.5 399.9,728.4 393.9,729.3 387.9,730.3 381.9,731.2 375.9,732.2 369.9,733.1 363.9,734.1 357.9,735.1 351.9,736.1 345.9,737.2 339.9,738.2 333.9,739.2 327.9,740.3 321.9,741.3 315.9,742.4 309.9,743.5 303.9,744.6 297.9,745.7 291.9,746.8 285.9,747.9 279.9,749.0 273.9,750.2 267.9,751.3 261.9,752.4 255.9,753.6 249.9,754.7 243.9,755.9 237.9,757.1 231.9,758.2 225.9,759.4 219.9,760.6 213.9,761.7 207.9,762.9 201.9,764.1 195.9,765.2 189.9,766.4 183.9,767.6 177.9,768.7 171.9,769.9 165.9,771.0 159.9,772.2 153.9,773.3 147.9,774.5 141.9,775.6 135.9,776.8 129.9,777.9 123.9,779.0 117.9,780.1 111.9,781.2 105.9,782.3 99.9,783.4 93.9,784.4 87.9,785.5 81.9,786.5 75.9,787.5 69.9,788.6 67.5,789.1 65.3,789.8 63.2,790.8 61.3,792.0 59.6,793.5 58.1,795.2 56.7,797.1 55.6,799.2 33.8,844.3" fill="#303335"/>
<polyline points="61,780 51,801 47,808" fill="none" stroke="#131415" stroke-width="2"/>
<polyline points="1204.5,761 1196,798" fill="none" stroke="#131415" stroke-width="2"/>
<polygon points="1219.0,747.0 1236.0,744.0 1246.0,742.0 1250.3,741.0 1225.0,807.4 1220.0,808.8 1206.0,806.0 1212.0,780.0 1217.0,756.0" fill="url(#capg1)"/>
<polygon points="1230,734.5 1246,735.4 1249,737.5 1250.3,741 1248,749 1241,743 1233,739" fill="#4a4d4f"/></g></g>
<g id="v3" filter="url(#soft)"><polygon points="188.0,994.4 197.0,994.5 203.0,994.1 209.0,993.7 215.0,993.4 221.0,993.0 227.0,992.7 233.0,992.3 239.0,992.0 245.0,991.6 251.0,991.3 257.0,991.0 263.0,990.7 269.0,990.3 275.0,990.0 281.0,989.7 287.0,989.4 293.0,989.1 299.0,988.8 305.0,988.5 311.0,988.3 317.0,988.0 323.0,987.7 329.0,987.4 335.0,987.2 341.0,986.9 347.0,986.6 353.0,986.4 359.0,986.1 365.0,985.9 371.0,985.7 377.0,985.4 383.0,985.2 389.0,985.0 395.0,984.7 401.0,984.5 407.0,984.3 413.0,984.1 419.0,983.9 425.0,983.7 431.0,983.5 437.0,983.3 443.0,983.1 449.0,982.9 455.0,982.7 461.0,982.5 467.0,982.3 473.0,982.1 479.0,981.9 485.0,981.8 491.0,981.6 497.0,981.4 503.0,981.3 509.0,981.1 515.0,980.9 521.0,980.8 527.0,980.6 533.0,980.5 539.0,980.3 545.0,980.2 551.0,980.0 557.0,979.9 563.0,979.8 569.0,979.6 575.0,979.5 581.0,979.4 587.0,979.2 593.0,979.1 599.0,979.0 605.0,978.9 611.0,978.7 617.0,978.6 623.0,978.5 629.0,978.4 635.0,978.3 641.0,978.2 647.0,978.0 653.0,977.9 659.0,977.8 665.0,977.7 671.0,977.6 677.0,977.5 683.0,977.4 689.0,977.3 695.0,977.2 701.0,977.1 707.0,977.0 713.0,976.9 719.0,976.8 725.0,976.7 731.0,976.6 737.0,976.5 743.0,976.4 749.0,976.4 755.0,976.3 761.0,976.2 767.0,976.1 773.0,976.0 779.0,975.9 785.0,975.8 791.0,975.7 797.0,975.6 803.0,975.6 809.0,975.5 815.0,975.4 821.0,975.3 827.0,975.2 833.0,975.1 839.0,975.0 845.0,975.0 851.0,974.9 857.0,974.8 863.0,974.7 869.0,974.6 875.0,974.5 881.0,974.4 887.0,974.3 893.0,974.2 899.0,974.2 905.0,974.1 911.0,974.0 917.0,973.9 923.0,973.8 929.0,973.7 935.0,973.6 941.0,973.5 947.0,973.4 953.0,973.3 959.0,973.2 965.0,973.1 971.0,973.0 977.0,972.9 983.0,972.8 989.0,972.7 995.0,972.6 1001.0,972.5 1007.0,972.4 1013.0,972.3 1019.0,972.2 1025.0,972.0 1031.0,971.9 1037.0,971.8 1043.0,971.7 1049.0,971.6 1055.0,971.4 1061.0,971.3 1065.0,971.2 1081.0,970.8 1085.0,975.2 1097.2,1054.6 1095.5,1057.4 1072.9,1057.8 1064.8,1054.2 1050.0,1053.1 1044.0,1053.1 1038.0,1053.1 1032.0,1053.1 1026.0,1053.1 1020.0,1053.1 1014.0,1053.0 1008.0,1053.0 1002.0,1053.0 996.0,1053.0 990.0,1053.0 984.0,1053.1 978.0,1053.1 972.0,1053.1 966.0,1053.1 960.0,1053.1 954.0,1053.1 948.0,1053.1 942.0,1053.2 936.0,1053.2 930.0,1053.2 924.0,1053.2 918.0,1053.2 912.0,1053.3 906.0,1053.3 900.0,1053.3 894.0,1053.4 888.0,1053.4 882.0,1053.4 876.0,1053.5 870.0,1053.5 864.0,1053.6 858.0,1053.6 852.0,1053.6 846.0,1053.7 840.0,1053.7 834.0,1053.8 828.0,1053.8 822.0,1053.9 816.0,1053.9 810.0,1053.9 804.0,1054.0 798.0,1054.0 792.0,1054.1 786.0,1054.2 780.0,1054.2 774.0,1054.3 768.0,1054.3 762.0,1054.4 756.0,1054.4 750.0,1054.5 744.0,1054.5 738.0,1054.6 732.0,1054.6 726.0,1054.7 720.0,1054.7 714.0,1054.8 708.0,1054.9 702.0,1054.9 696.0,1055.0 690.0,1055.0 684.0,1055.1 678.0,1055.1 672.0,1055.2 666.0,1055.3 660.0,1055.3 654.0,1055.4 648.0,1055.4 642.0,1055.5 636.0,1055.5 630.0,1055.6 624.0,1055.6 618.0,1055.7 612.0,1055.7 606.0,1055.8 600.0,1055.9 594.0,1055.9 588.0,1056.0 582.0,1056.0 576.0,1056.1 570.0,1056.1 564.0,1056.1 558.0,1056.2 552.0,1056.2 546.0,1056.3 540.0,1056.3 534.0,1056.4 528.0,1056.4 522.0,1056.4 516.0,1056.5 510.0,1056.5 504.0,1056.6 498.0,1056.6 492.0,1056.6 486.0,1056.7 480.0,1056.7 474.0,1056.7 468.0,1056.7 462.0,1056.8 456.0,1056.8 450.0,1056.8 444.0,1056.8 438.0,1056.9 432.0,1056.9 426.0,1056.9 420.0,1056.9 414.0,1056.9 408.0,1056.9 402.0,1056.9 396.0,1056.9 390.0,1056.9 384.0,1056.9 378.0,1056.9 372.0,1056.9 366.0,1056.9 360.0,1056.9 354.0,1056.9 348.0,1056.9 342.0,1056.9 336.0,1056.9 330.0,1056.9 324.0,1056.8 318.0,1056.8 312.0,1056.8 306.0,1056.7 300.0,1056.7 294.0,1056.7 288.0,1056.6 282.0,1056.6 276.0,1056.6 270.0,1056.5 264.0,1056.5 258.0,1056.4 252.0,1056.3 246.0,1056.3 240.0,1056.2 234.0,1056.2 228.0,1056.1 222.0,1056.0 216.0,1055.9 210.0,1055.9 204.0,1055.8 198.0,1055.7 196.0,1055.7 187.3,1058.9 175.6,1062.0 165.5,1061.2 161.7,1057.4 184.2,998.3" fill="#1a1b1d"/>
<g clip-path="url(#c3)"><polygon points="176.2,1068.7 193.7,1020.8 194.6,1018.8 195.7,1017.1 196.9,1015.6 198.3,1014.4 199.9,1013.4 201.7,1012.7 203.7,1012.2 205.8,1012.0 211.8,1011.8 217.8,1011.5 223.8,1011.3 229.8,1011.1 235.8,1010.9 241.8,1010.6 247.8,1010.4 253.8,1010.2 259.8,1010.0 265.8,1009.7 271.8,1009.5 277.8,1009.3 283.8,1009.1 289.8,1008.9 295.8,1008.7 301.8,1008.4 307.8,1008.2 313.8,1008.0 319.8,1007.8 325.8,1007.6 331.8,1007.4 337.8,1007.2 343.8,1007.0 349.8,1006.8 355.8,1006.6 361.8,1006.4 367.8,1006.2 373.8,1006.0 379.8,1005.8 385.8,1005.6 391.8,1005.4 397.8,1005.3 403.8,1005.1 409.8,1004.9 415.8,1004.7 421.8,1004.5 427.8,1004.3 433.8,1004.1 439.8,1004.0 445.8,1003.8 451.8,1003.6 457.8,1003.4 463.8,1003.2 469.8,1003.1 475.8,1002.9 481.8,1002.7 487.8,1002.6 493.8,1002.4 499.8,1002.2 505.8,1002.0 511.8,1001.9 517.8,1001.7 523.8,1001.5 529.8,1001.4 535.8,1001.2 541.8,1001.0 547.8,1000.9 553.8,1000.7 559.8,1000.6 565.8,1000.4 571.8,1000.2 577.8,1000.1 583.8,999.9 589.8,999.8 595.8,999.6 601.8,999.5 607.8,999.3 613.8,999.2 619.8,999.0 625.8,998.9 631.8,998.7 637.8,998.6 643.8,998.4 649.8,998.3 655.8,998.1 661.8,998.0 667.8,997.8 673.8,997.7 679.8,997.5 685.8,997.4 691.8,997.3 697.8,997.1 703.8,997.0 709.8,996.8 715.8,996.7 721.8,996.6 727.8,996.4 733.8,996.3 739.8,996.1 745.8,996.0 751.8,995.9 757.8,995.7 763.8,995.6 769.8,995.5 775.8,995.3 781.8,995.2 787.8,995.1 793.8,994.9 799.8,994.8 805.8,994.7 811.8,994.6 817.8,994.4 823.8,994.3 829.8,994.2 835.8,994.0 841.8,993.9 847.8,993.8 853.8,993.7 859.8,993.5 865.8,993.4 871.8,993.3 877.8,993.2 883.8,993.0 889.8,992.9 895.8,992.8 901.8,992.7 907.8,992.5 913.8,992.4 919.8,992.3 925.8,992.2 931.8,992.0 937.8,991.9 943.8,991.8 949.8,991.7 955.8,991.5 961.8,991.4 967.8,991.3 973.8,991.2 979.8,991.1 985.8,990.9 991.8,990.8 997.8,990.7 1003.8,990.6 1009.8,990.5 1015.8,990.3 1021.8,990.2 1027.8,990.1 1033.8,990.0 1039.8,989.9 1045.8,989.7 1048.6,989.7 1050.8,989.8 1052.7,990.2 1054.4,990.8 1055.8,991.8 1057.1,993.0 1058.1,994.5 1058.9,996.3 1059.5,998.3 1069.9,1048.2 1069.9,1100.0 176.2,1100.0" fill="#3a3d3f"/>
<polygon points="176.2,1068.7 193.7,1020.8 194.6,1018.8 195.7,1017.1 196.9,1015.6 198.3,1014.4 199.9,1013.4 201.7,1012.7 203.7,1012.2 205.8,1012.0 211.8,1011.8 217.8,1011.5 223.8,1011.3 229.8,1011.1 235.8,1010.9 241.8,1010.6 247.8,1010.4 253.8,1010.2 259.8,1010.0 265.8,1009.7 271.8,1009.5 277.8,1009.3 283.8,1009.1 289.8,1008.9 295.8,1008.7 301.8,1008.4 307.8,1008.2 313.8,1008.0 319.8,1007.8 325.8,1007.6 331.8,1007.4 337.8,1007.2 343.8,1007.0 349.8,1006.8 355.8,1006.6 361.8,1006.4 367.8,1006.2 373.8,1006.0 379.8,1005.8 385.8,1005.6 391.8,1005.4 397.8,1005.3 403.8,1005.1 409.8,1004.9 415.8,1004.7 421.8,1004.5 427.8,1004.3 433.8,1004.1 439.8,1004.0 445.8,1003.8 451.8,1003.6 457.8,1003.4 463.8,1003.2 469.8,1003.1 475.8,1002.9 481.8,1002.7 487.8,1002.6 493.8,1002.4 499.8,1002.2 505.8,1002.0 511.8,1001.9 517.8,1001.7 523.8,1001.5 529.8,1001.4 535.8,1001.2 541.8,1001.0 547.8,1000.9 553.8,1000.7 559.8,1000.6 565.8,1000.4 571.8,1000.2 577.8,1000.1 583.8,999.9 589.8,999.8 595.8,999.6 601.8,999.5 607.8,999.3 613.8,999.2 619.8,999.0 625.8,998.9 631.8,998.7 637.8,998.6 643.8,998.4 649.8,998.3 655.8,998.1 661.8,998.0 667.8,997.8 673.8,997.7 679.8,997.5 685.8,997.4 691.8,997.3 697.8,997.1 703.8,997.0 709.8,996.8 715.8,996.7 721.8,996.6 727.8,996.4 733.8,996.3 739.8,996.1 745.8,996.0 751.8,995.9 757.8,995.7 763.8,995.6 769.8,995.5 775.8,995.3 781.8,995.2 787.8,995.1 793.8,994.9 799.8,994.8 805.8,994.7 811.8,994.6 817.8,994.4 823.8,994.3 829.8,994.2 835.8,994.0 841.8,993.9 847.8,993.8 853.8,993.7 859.8,993.5 865.8,993.4 871.8,993.3 877.8,993.2 883.8,993.0 889.8,992.9 895.8,992.8 901.8,992.7 907.8,992.5 913.8,992.4 919.8,992.3 925.8,992.2 931.8,992.0 937.8,991.9 943.8,991.8 949.8,991.7 955.8,991.5 961.8,991.4 967.8,991.3 973.8,991.2 979.8,991.1 985.8,990.9 991.8,990.8 997.8,990.7 1003.8,990.6 1009.8,990.5 1015.8,990.3 1021.8,990.2 1027.8,990.1 1033.8,990.0 1039.8,989.9 1045.8,989.7 1048.6,989.7 1050.8,989.8 1052.7,990.2 1054.4,990.8 1055.8,991.8 1057.1,993.0 1058.1,994.5 1058.9,996.3 1059.5,998.3 1069.9,1048.2 1068.6,1050.3 1058.1,1000.4 1057.6,998.4 1056.8,996.6 1055.7,995.1 1054.5,993.9 1053.0,992.9 1051.3,992.3 1049.4,991.9 1047.3,991.9 1047.2,991.9 1041.2,992.1 1035.2,992.2 1029.2,992.4 1023.2,992.6 1017.2,992.8 1011.2,992.9 1005.2,993.1 999.2,993.3 993.2,993.4 987.2,993.6 981.2,993.8 975.2,994.0 969.2,994.1 963.2,994.3 957.2,994.5 951.2,994.6 945.2,994.8 939.2,994.9 933.2,995.1 927.2,995.3 921.2,995.4 915.2,995.6 909.2,995.8 903.2,995.9 897.2,996.1 891.2,996.2 885.2,996.4 879.2,996.6 873.2,996.7 867.2,996.9 861.2,997.0 855.2,997.2 849.2,997.3 843.2,997.5 837.2,997.6 831.2,997.8 825.2,998.0 819.2,998.1 813.2,998.3 807.2,998.4 801.2,998.6 795.2,998.7 789.2,998.9 783.2,999.0 777.2,999.2 771.2,999.3 765.2,999.5 759.2,999.6 753.2,999.8 747.2,999.9 741.2,1000.1 735.2,1000.2 729.2,1000.4 723.2,1000.5 717.2,1000.7 711.2,1000.9 705.2,1001.0 699.2,1001.2 693.2,1001.3 687.2,1001.5 681.2,1001.6 675.2,1001.8 669.2,1001.9 663.2,1002.1 657.2,1002.2 651.2,1002.4 645.2,1002.5 639.2,1002.7 633.2,1002.8 627.2,1003.0 621.2,1003.1 615.2,1003.3 609.2,1003.4 603.2,1003.6 597.2,1003.7 591.2,1003.9 585.2,1004.0 579.2,1004.2 573.2,1004.3 567.2,1004.5 561.2,1004.7 555.2,1004.8 549.2,1005.0 543.2,1005.1 537.2,1005.3 531.2,1005.4 525.2,1005.6 519.2,1005.8 513.2,1005.9 507.2,1006.1 501.2,1006.2 495.2,1006.4 489.2,1006.5 483.2,1006.7 477.2,1006.9 471.2,1007.0 465.2,1007.2 459.2,1007.4 453.2,1007.5 447.2,1007.7 441.2,1007.9 435.2,1008.0 429.2,1008.2 423.2,1008.4 417.2,1008.5 411.2,1008.7 405.2,1008.9 399.2,1009.0 393.2,1009.2 387.2,1009.4 381.2,1009.5 375.2,1009.7 369.2,1009.9 363.2,1010.1 357.2,1010.3 351.2,1010.4 345.2,1010.6 339.2,1010.8 333.2,1011.0 327.2,1011.1 321.2,1011.3 315.2,1011.5 309.2,1011.7 303.2,1011.9 297.2,1012.1 291.2,1012.3 285.2,1012.4 279.2,1012.6 273.2,1012.8 267.2,1013.0 261.2,1013.2 255.2,1013.4 249.2,1013.6 243.2,1013.8 237.2,1014.0 231.2,1014.2 225.2,1014.4 219.2,1014.6 213.2,1014.8 207.2,1015.0 205.0,1015.2 203.0,1015.7 201.2,1016.4 199.6,1017.4 198.2,1018.6 197.0,1020.1 195.9,1021.8 195.1,1023.8 177.5,1071.7" fill="#6f7274"/>
<polygon points="177.5,1071.7 195.1,1023.8 195.9,1021.8 197.0,1020.1 198.2,1018.6 199.6,1017.4 201.2,1016.4 203.0,1015.7 205.0,1015.2 207.2,1015.0 213.2,1014.8 219.2,1014.6 225.2,1014.4 231.2,1014.2 237.2,1014.0 243.2,1013.8 249.2,1013.6 255.2,1013.4 261.2,1013.2 267.2,1013.0 273.2,1012.8 279.2,1012.6 285.2,1012.4 291.2,1012.3 297.2,1012.1 303.2,1011.9 309.2,1011.7 315.2,1011.5 321.2,1011.3 327.2,1011.1 333.2,1011.0 339.2,1010.8 345.2,1010.6 351.2,1010.4 357.2,1010.3 363.2,1010.1 369.2,1009.9 375.2,1009.7 381.2,1009.5 387.2,1009.4 393.2,1009.2 399.2,1009.0 405.2,1008.9 411.2,1008.7 417.2,1008.5 423.2,1008.4 429.2,1008.2 435.2,1008.0 441.2,1007.9 447.2,1007.7 453.2,1007.5 459.2,1007.4 465.2,1007.2 471.2,1007.0 477.2,1006.9 483.2,1006.7 489.2,1006.5 495.2,1006.4 501.2,1006.2 507.2,1006.1 513.2,1005.9 519.2,1005.8 525.2,1005.6 531.2,1005.4 537.2,1005.3 543.2,1005.1 549.2,1005.0 555.2,1004.8 561.2,1004.7 567.2,1004.5 573.2,1004.3 579.2,1004.2 585.2,1004.0 591.2,1003.9 597.2,1003.7 603.2,1003.6 609.2,1003.4 615.2,1003.3 621.2,1003.1 627.2,1003.0 633.2,1002.8 639.2,1002.7 645.2,1002.5 651.2,1002.4 657.2,1002.2 663.2,1002.1 669.2,1001.9 675.2,1001.8 681.2,1001.6 687.2,1001.5 693.2,1001.3 699.2,1001.2 705.2,1001.0 711.2,1000.9 717.2,1000.7 723.2,1000.5 729.2,1000.4 735.2,1000.2 741.2,1000.1 747.2,999.9 753.2,999.8 759.2,999.6 765.2,999.5 771.2,999.3 777.2,999.2 783.2,999.0 789.2,998.9 795.2,998.7 801.2,998.6 807.2,998.4 813.2,998.3 819.2,998.1 825.2,998.0 831.2,997.8 837.2,997.6 843.2,997.5 849.2,997.3 855.2,997.2 861.2,997.0 867.2,996.9 873.2,996.7 879.2,996.6 885.2,996.4 891.2,996.2 897.2,996.1 903.2,995.9 909.2,995.8 915.2,995.6 921.2,995.4 927.2,995.3 933.2,995.1 939.2,994.9 945.2,994.8 951.2,994.6 957.2,994.5 963.2,994.3 969.2,994.1 975.2,994.0 981.2,993.8 987.2,993.6 993.2,993.4 999.2,993.3 1005.2,993.1 1011.2,992.9 1017.2,992.8 1023.2,992.6 1029.2,992.4 1035.2,992.2 1041.2,992.1 1047.2,991.9 1047.3,991.9 1049.4,991.9 1051.3,992.3 1053.0,992.9 1054.5,993.9 1055.7,995.1 1056.8,996.6 1057.6,998.4 1058.1,1000.4 1068.6,1050.3 1067.6,1051.9 1057.2,1002.0 1056.6,999.9 1055.8,998.1 1054.8,996.6 1053.5,995.4 1052.1,994.5 1050.4,993.9 1048.5,993.5 1046.3,993.5 1042.1,993.6 1036.1,993.8 1030.1,994.1 1024.1,994.3 1018.1,994.5 1012.1,994.7 1006.1,994.9 1000.1,995.1 994.1,995.3 988.1,995.5 982.1,995.7 976.1,995.9 970.1,996.1 964.1,996.3 958.1,996.5 952.1,996.7 946.1,996.9 940.1,997.1 934.1,997.3 928.1,997.5 922.1,997.7 916.1,997.9 910.1,998.1 904.1,998.3 898.1,998.5 892.1,998.7 886.1,998.8 880.1,999.0 874.1,999.2 868.1,999.4 862.1,999.6 856.1,999.7 850.1,999.9 844.1,1000.1 838.1,1000.3 832.1,1000.4 826.1,1000.6 820.1,1000.8 814.1,1001.0 808.1,1001.1 802.1,1001.3 796.1,1001.5 790.1,1001.6 784.1,1001.8 778.1,1002.0 772.1,1002.1 766.1,1002.3 760.1,1002.5 754.1,1002.6 748.1,1002.8 742.1,1003.0 736.1,1003.1 730.1,1003.3 724.1,1003.4 718.1,1003.6 712.1,1003.8 706.1,1003.9 700.1,1004.1 694.1,1004.2 688.1,1004.4 682.1,1004.6 676.1,1004.7 670.1,1004.9 664.1,1005.0 658.1,1005.2 652.1,1005.3 646.1,1005.5 640.1,1005.6 634.1,1005.8 628.1,1006.0 622.1,1006.1 616.1,1006.3 610.1,1006.4 604.1,1006.6 598.1,1006.7 592.1,1006.9 586.1,1007.0 580.1,1007.2 574.1,1007.3 568.1,1007.5 562.1,1007.6 556.1,1007.8 550.1,1007.9 544.1,1008.1 538.1,1008.2 532.1,1008.4 526.1,1008.5 520.1,1008.7 514.1,1008.8 508.1,1009.0 502.1,1009.2 496.1,1009.3 490.1,1009.5 484.1,1009.6 478.1,1009.8 472.1,1009.9 466.1,1010.1 460.1,1010.2 454.1,1010.4 448.1,1010.5 442.1,1010.7 436.1,1010.8 430.1,1011.0 424.1,1011.2 418.1,1011.3 412.1,1011.5 406.1,1011.6 400.1,1011.8 394.1,1011.9 388.1,1012.1 382.1,1012.3 376.1,1012.4 370.1,1012.6 364.1,1012.7 358.1,1012.9 352.1,1013.1 346.1,1013.2 340.1,1013.4 334.1,1013.6 328.1,1013.7 322.1,1013.9 316.1,1014.1 310.1,1014.2 304.1,1014.4 298.1,1014.6 292.1,1014.7 286.1,1014.9 280.1,1015.1 274.1,1015.2 268.1,1015.4 262.1,1015.6 256.1,1015.8 250.1,1015.9 244.1,1016.1 238.1,1016.3 232.1,1016.5 226.1,1016.7 220.1,1016.8 214.1,1017.0 208.1,1017.2 206.0,1017.4 204.0,1017.9 202.2,1018.6 200.6,1019.5 199.2,1020.7 198.0,1022.2 196.9,1023.9 196.0,1025.9 178.5,1073.8" fill="#55585a"/>
<polygon points="178.5,1073.8 196.0,1025.9 196.9,1023.9 198.0,1022.2 199.2,1020.7 200.6,1019.5 202.2,1018.6 204.0,1017.9 206.0,1017.4 208.1,1017.2 214.1,1017.0 220.1,1016.8 226.1,1016.7 232.1,1016.5 238.1,1016.3 244.1,1016.1 250.1,1015.9 256.1,1015.8 262.1,1015.6 268.1,1015.4 274.1,1015.2 280.1,1015.1 286.1,1014.9 292.1,1014.7 298.1,1014.6 304.1,1014.4 310.1,1014.2 316.1,1014.1 322.1,1013.9 328.1,1013.7 334.1,1013.6 340.1,1013.4 346.1,1013.2 352.1,1013.1 358.1,1012.9 364.1,1012.7 370.1,1012.6 376.1,1012.4 382.1,1012.3 388.1,1012.1 394.1,1011.9 400.1,1011.8 406.1,1011.6 412.1,1011.5 418.1,1011.3 424.1,1011.2 430.1,1011.0 436.1,1010.8 442.1,1010.7 448.1,1010.5 454.1,1010.4 460.1,1010.2 466.1,1010.1 472.1,1009.9 478.1,1009.8 484.1,1009.6 490.1,1009.5 496.1,1009.3 502.1,1009.2 508.1,1009.0 514.1,1008.8 520.1,1008.7 526.1,1008.5 532.1,1008.4 538.1,1008.2 544.1,1008.1 550.1,1007.9 556.1,1007.8 562.1,1007.6 568.1,1007.5 574.1,1007.3 580.1,1007.2 586.1,1007.0 592.1,1006.9 598.1,1006.7 604.1,1006.6 610.1,1006.4 616.1,1006.3 622.1,1006.1 628.1,1006.0 634.1,1005.8 640.1,1005.6 646.1,1005.5 652.1,1005.3 658.1,1005.2 664.1,1005.0 670.1,1004.9 676.1,1004.7 682.1,1004.6 688.1,1004.4 694.1,1004.2 700.1,1004.1 706.1,1003.9 712.1,1003.8 718.1,1003.6 724.1,1003.4 730.1,1003.3 736.1,1003.1 742.1,1003.0 748.1,1002.8 754.1,1002.6 760.1,1002.5 766.1,1002.3 772.1,1002.1 778.1,1002.0 784.1,1001.8 790.1,1001.6 796.1,1001.5 802.1,1001.3 808.1,1001.1 814.1,1001.0 820.1,1000.8 826.1,1000.6 832.1,1000.4 838.1,1000.3 844.1,1000.1 850.1,999.9 856.1,999.7 862.1,999.6 868.1,999.4 874.1,999.2 880.1,999.0 886.1,998.8 892.1,998.7 898.1,998.5 904.1,998.3 910.1,998.1 916.1,997.9 922.1,997.7 928.1,997.5 934.1,997.3 940.1,997.1 946.1,996.9 952.1,996.7 958.1,996.5 964.1,996.3 970.1,996.1 976.1,995.9 982.1,995.7 988.1,995.5 994.1,995.3 1000.1,995.1 1006.1,994.9 1012.1,994.7 1018.1,994.5 1024.1,994.3 1030.1,994.1 1036.1,993.8 1042.1,993.6 1046.3,993.5 1048.5,993.5 1050.4,993.9 1052.1,994.5 1053.5,995.4 1054.8,996.6 1055.8,998.1 1056.6,999.9 1057.2,1002.0 1067.6,1051.9 1066.9,1053.0 1056.5,1003.1 1055.9,1001.1 1055.1,999.3 1054.1,997.8 1052.8,996.6 1051.4,995.7 1049.7,995.1 1047.8,994.7 1045.6,994.7 1042.9,994.8 1036.9,995.1 1030.9,995.3 1024.9,995.5 1018.9,995.8 1012.9,996.0 1006.9,996.3 1000.9,996.5 994.9,996.7 988.9,997.0 982.9,997.2 976.9,997.4 970.9,997.7 964.9,997.9 958.9,998.1 952.9,998.3 946.9,998.6 940.9,998.8 934.9,999.0 928.9,999.2 922.9,999.4 916.9,999.6 910.9,999.8 904.9,1000.0 898.9,1000.3 892.9,1000.5 886.9,1000.7 880.9,1000.9 874.9,1001.1 868.9,1001.3 862.9,1001.5 856.9,1001.7 850.9,1001.8 844.9,1002.0 838.9,1002.2 832.9,1002.4 826.9,1002.6 820.9,1002.8 814.9,1003.0 808.9,1003.2 802.9,1003.3 796.9,1003.5 790.9,1003.7 784.9,1003.9 778.9,1004.1 772.9,1004.2 766.9,1004.4 760.9,1004.6 754.9,1004.8 748.9,1004.9 742.9,1005.1 736.9,1005.3 730.9,1005.4 724.9,1005.6 718.9,1005.8 712.9,1005.9 706.9,1006.1 700.9,1006.3 694.9,1006.4 688.9,1006.6 682.9,1006.8 676.9,1006.9 670.9,1007.1 664.9,1007.2 658.9,1007.4 652.9,1007.6 646.9,1007.7 640.9,1007.9 634.9,1008.0 628.9,1008.2 622.9,1008.3 616.9,1008.5 610.9,1008.7 604.9,1008.8 598.9,1009.0 592.9,1009.1 586.9,1009.3 580.9,1009.4 574.9,1009.6 568.9,1009.7 562.9,1009.9 556.9,1010.0 550.9,1010.2 544.9,1010.3 538.9,1010.5 532.9,1010.6 526.9,1010.8 520.9,1010.9 514.9,1011.1 508.9,1011.2 502.9,1011.3 496.9,1011.5 490.9,1011.6 484.9,1011.8 478.9,1011.9 472.9,1012.1 466.9,1012.2 460.9,1012.4 454.9,1012.5 448.9,1012.7 442.9,1012.8 436.9,1013.0 430.9,1013.1 424.9,1013.3 418.9,1013.4 412.9,1013.6 406.9,1013.7 400.9,1013.9 394.9,1014.0 388.9,1014.1 382.9,1014.3 376.9,1014.4 370.9,1014.6 364.9,1014.7 358.9,1014.9 352.9,1015.0 346.9,1015.2 340.9,1015.4 334.9,1015.5 328.9,1015.7 322.9,1015.8 316.9,1016.0 310.9,1016.1 304.9,1016.3 298.9,1016.4 292.9,1016.6 286.9,1016.7 280.9,1016.9 274.9,1017.1 268.9,1017.2 262.9,1017.4 256.9,1017.5 250.9,1017.7 244.9,1017.9 238.9,1018.0 232.9,1018.2 226.9,1018.4 220.9,1018.5 214.9,1018.7 208.9,1018.8 206.7,1019.0 204.7,1019.5 202.9,1020.2 201.3,1021.2 199.9,1022.4 198.7,1023.8 197.6,1025.6 196.8,1027.6 179.2,1075.4" fill="#34373a"/>
<polygon points="179.2,1075.4 196.8,1027.6 197.6,1025.6 198.7,1023.8 199.9,1022.4 201.3,1021.2 202.9,1020.2 204.7,1019.5 206.7,1019.0 208.9,1018.8 214.9,1018.7 220.9,1018.5 226.9,1018.4 232.9,1018.2 238.9,1018.0 244.9,1017.9 250.9,1017.7 256.9,1017.5 262.9,1017.4 268.9,1017.2 274.9,1017.1 280.9,1016.9 286.9,1016.7 292.9,1016.6 298.9,1016.4 304.9,1016.3 310.9,1016.1 316.9,1016.0 322.9,1015.8 328.9,1015.7 334.9,1015.5 340.9,1015.4 346.9,1015.2 352.9,1015.0 358.9,1014.9 364.9,1014.7 370.9,1014.6 376.9,1014.4 382.9,1014.3 388.9,1014.1 394.9,1014.0 400.9,1013.9 406.9,1013.7 412.9,1013.6 418.9,1013.4 424.9,1013.3 430.9,1013.1 436.9,1013.0 442.9,1012.8 448.9,1012.7 454.9,1012.5 460.9,1012.4 466.9,1012.2 472.9,1012.1 478.9,1011.9 484.9,1011.8 490.9,1011.6 496.9,1011.5 502.9,1011.3 508.9,1011.2 514.9,1011.1 520.9,1010.9 526.9,1010.8 532.9,1010.6 538.9,1010.5 544.9,1010.3 550.9,1010.2 556.9,1010.0 562.9,1009.9 568.9,1009.7 574.9,1009.6 580.9,1009.4 586.9,1009.3 592.9,1009.1 598.9,1009.0 604.9,1008.8 610.9,1008.7 616.9,1008.5 622.9,1008.3 628.9,1008.2 634.9,1008.0 640.9,1007.9 646.9,1007.7 652.9,1007.6 658.9,1007.4 664.9,1007.2 670.9,1007.1 676.9,1006.9 682.9,1006.8 688.9,1006.6 694.9,1006.4 700.9,1006.3 706.9,1006.1 712.9,1005.9 718.9,1005.8 724.9,1005.6 730.9,1005.4 736.9,1005.3 742.9,1005.1 748.9,1004.9 754.9,1004.8 760.9,1004.6 766.9,1004.4 772.9,1004.2 778.9,1004.1 784.9,1003.9 790.9,1003.7 796.9,1003.5 802.9,1003.3 808.9,1003.2 814.9,1003.0 820.9,1002.8 826.9,1002.6 832.9,1002.4 838.9,1002.2 844.9,1002.0 850.9,1001.8 856.9,1001.7 862.9,1001.5 868.9,1001.3 874.9,1001.1 880.9,1000.9 886.9,1000.7 892.9,1000.5 898.9,1000.3 904.9,1000.0 910.9,999.8 916.9,999.6 922.9,999.4 928.9,999.2 934.9,999.0 940.9,998.8 946.9,998.6 952.9,998.3 958.9,998.1 964.9,997.9 970.9,997.7 976.9,997.4 982.9,997.2 988.9,997.0 994.9,996.7 1000.9,996.5 1006.9,996.3 1012.9,996.0 1018.9,995.8 1024.9,995.5 1030.9,995.3 1036.9,995.1 1042.9,994.8 1045.6,994.7 1047.8,994.7 1049.7,995.1 1051.4,995.7 1052.8,996.6 1054.1,997.8 1055.1,999.3 1055.9,1001.1 1056.5,1003.1 1066.9,1053.0 1066.1,1054.4 1055.6,1004.5 1055.1,1002.4 1054.3,1000.7 1053.2,999.2 1052.0,998.0 1050.5,997.1 1048.8,996.5 1046.9,996.1 1044.8,996.1 1043.7,996.2 1037.7,996.5 1031.7,996.7 1025.7,997.0 1019.7,997.3 1013.7,997.6 1007.7,997.8 1001.7,998.1 995.7,998.4 989.7,998.6 983.7,998.9 977.7,999.2 971.7,999.4 965.7,999.7 959.7,999.9 953.7,1000.2 947.7,1000.4 941.7,1000.7 935.7,1000.9 929.7,1001.2 923.7,1001.4 917.7,1001.6 911.7,1001.9 905.7,1002.1 899.7,1002.3 893.7,1002.6 887.7,1002.8 881.7,1003.0 875.7,1003.2 869.7,1003.4 863.7,1003.7 857.7,1003.9 851.7,1004.1 845.7,1004.3 839.7,1004.5 833.7,1004.7 827.7,1004.9 821.7,1005.1 815.7,1005.3 809.7,1005.5 803.7,1005.7 797.7,1005.9 791.7,1006.1 785.7,1006.3 779.7,1006.5 773.7,1006.7 767.7,1006.9 761.7,1007.1 755.7,1007.2 749.7,1007.4 743.7,1007.6 737.7,1007.8 731.7,1008.0 725.7,1008.1 719.7,1008.3 713.7,1008.5 707.7,1008.7 701.7,1008.8 695.7,1009.0 689.7,1009.2 683.7,1009.3 677.7,1009.5 671.7,1009.7 665.7,1009.8 659.7,1010.0 653.7,1010.2 647.7,1010.3 641.7,1010.5 635.7,1010.6 629.7,1010.8 623.7,1011.0 617.7,1011.1 611.7,1011.3 605.7,1011.4 599.7,1011.6 593.7,1011.7 587.7,1011.9 581.7,1012.0 575.7,1012.2 569.7,1012.3 563.7,1012.5 557.7,1012.6 551.7,1012.8 545.7,1012.9 539.7,1013.1 533.7,1013.2 527.7,1013.3 521.7,1013.5 515.7,1013.6 509.7,1013.8 503.7,1013.9 497.7,1014.1 491.7,1014.2 485.7,1014.3 479.7,1014.5 473.7,1014.6 467.7,1014.7 461.7,1014.9 455.7,1015.0 449.7,1015.2 443.7,1015.3 437.7,1015.4 431.7,1015.6 425.7,1015.7 419.7,1015.9 413.7,1016.0 407.7,1016.1 401.7,1016.3 395.7,1016.4 389.7,1016.5 383.7,1016.7 377.7,1016.8 371.7,1017.0 365.7,1017.1 359.7,1017.2 353.7,1017.4 347.7,1017.5 341.7,1017.6 335.7,1017.8 329.7,1017.9 323.7,1018.1 317.7,1018.2 311.7,1018.3 305.7,1018.5 299.7,1018.6 293.7,1018.8 287.7,1018.9 281.7,1019.0 275.7,1019.2 269.7,1019.3 263.7,1019.5 257.7,1019.6 251.7,1019.8 245.7,1019.9 239.7,1020.0 233.7,1020.2 227.7,1020.3 221.7,1020.5 215.7,1020.6 209.7,1020.8 207.5,1021.0 205.6,1021.4 203.8,1022.1 202.2,1023.1 200.8,1024.3 199.5,1025.7 198.5,1027.5 197.6,1029.5 180.1,1077.3" fill="#606365"/>
<polygon points="180.1,1077.3 197.6,1029.5 198.5,1027.5 199.5,1025.7 200.8,1024.3 202.2,1023.1 203.8,1022.1 205.6,1021.4 207.5,1021.0 209.7,1020.8 215.7,1020.6 221.7,1020.5 227.7,1020.3 233.7,1020.2 239.7,1020.0 245.7,1019.9 251.7,1019.8 257.7,1019.6 263.7,1019.5 269.7,1019.3 275.7,1019.2 281.7,1019.0 287.7,1018.9 293.7,1018.8 299.7,1018.6 305.7,1018.5 311.7,1018.3 317.7,1018.2 323.7,1018.1 329.7,1017.9 335.7,1017.8 341.7,1017.6 347.7,1017.5 353.7,1017.4 359.7,1017.2 365.7,1017.1 371.7,1017.0 377.7,1016.8 383.7,1016.7 389.7,1016.5 395.7,1016.4 401.7,1016.3 407.7,1016.1 413.7,1016.0 419.7,1015.9 425.7,1015.7 431.7,1015.6 437.7,1015.4 443.7,1015.3 449.7,1015.2 455.7,1015.0 461.7,1014.9 467.7,1014.7 473.7,1014.6 479.7,1014.5 485.7,1014.3 491.7,1014.2 497.7,1014.1 503.7,1013.9 509.7,1013.8 515.7,1013.6 521.7,1013.5 527.7,1013.3 533.7,1013.2 539.7,1013.1 545.7,1012.9 551.7,1012.8 557.7,1012.6 563.7,1012.5 569.7,1012.3 575.7,1012.2 581.7,1012.0 587.7,1011.9 593.7,1011.7 599.7,1011.6 605.7,1011.4 611.7,1011.3 617.7,1011.1 623.7,1011.0 629.7,1010.8 635.7,1010.6 641.7,1010.5 647.7,1010.3 653.7,1010.2 659.7,1010.0 665.7,1009.8 671.7,1009.7 677.7,1009.5 683.7,1009.3 689.7,1009.2 695.7,1009.0 701.7,1008.8 707.7,1008.7 713.7,1008.5 719.7,1008.3 725.7,1008.1 731.7,1008.0 737.7,1007.8 743.7,1007.6 749.7,1007.4 755.7,1007.2 761.7,1007.1 767.7,1006.9 773.7,1006.7 779.7,1006.5 785.7,1006.3 791.7,1006.1 797.7,1005.9 803.7,1005.7 809.7,1005.5 815.7,1005.3 821.7,1005.1 827.7,1004.9 833.7,1004.7 839.7,1004.5 845.7,1004.3 851.7,1004.1 857.7,1003.9 863.7,1003.7 869.7,1003.4 875.7,1003.2 881.7,1003.0 887.7,1002.8 893.7,1002.6 899.7,1002.3 905.7,1002.1 911.7,1001.9 917.7,1001.6 923.7,1001.4 929.7,1001.2 935.7,1000.9 941.7,1000.7 947.7,1000.4 953.7,1000.2 959.7,999.9 965.7,999.7 971.7,999.4 977.7,999.2 983.7,998.9 989.7,998.6 995.7,998.4 1001.7,998.1 1007.7,997.8 1013.7,997.6 1019.7,997.3 1025.7,997.0 1031.7,996.7 1037.7,996.5 1043.7,996.2 1044.8,996.1 1046.9,996.1 1048.8,996.5 1050.5,997.1 1052.0,998.0 1053.2,999.2 1054.3,1000.7 1055.1,1002.4 1055.6,1004.5 1066.1,1054.4 1065.6,1055.2 1055.2,1005.3 1054.6,1003.2 1053.8,1001.4 1052.8,1000.0 1051.5,998.8 1050.1,997.9 1048.4,997.3 1046.4,997.0 1044.3,996.9 1044.2,996.9 1038.2,997.2 1032.2,997.6 1026.2,997.9 1020.2,998.2 1014.2,998.4 1008.2,998.7 1002.2,999.0 996.2,999.3 990.2,999.6 984.2,999.9 978.2,1000.2 972.2,1000.4 966.2,1000.7 960.2,1001.0 954.2,1001.2 948.2,1001.5 942.2,1001.8 936.2,1002.0 930.2,1002.3 924.2,1002.5 918.2,1002.8 912.2,1003.0 906.2,1003.3 900.2,1003.5 894.2,1003.8 888.2,1004.0 882.2,1004.2 876.2,1004.5 870.2,1004.7 864.2,1004.9 858.2,1005.1 852.2,1005.4 846.2,1005.6 840.2,1005.8 834.2,1006.0 828.2,1006.2 822.2,1006.5 816.2,1006.7 810.2,1006.9 804.2,1007.1 798.2,1007.3 792.2,1007.5 786.2,1007.7 780.2,1007.9 774.2,1008.1 768.2,1008.3 762.2,1008.5 756.2,1008.7 750.2,1008.9 744.2,1009.0 738.2,1009.2 732.2,1009.4 726.2,1009.6 720.2,1009.8 714.2,1009.9 708.2,1010.1 702.2,1010.3 696.2,1010.5 690.2,1010.6 684.2,1010.8 678.2,1011.0 672.2,1011.2 666.2,1011.3 660.2,1011.5 654.2,1011.7 648.2,1011.8 642.2,1012.0 636.2,1012.1 630.2,1012.3 624.2,1012.4 618.2,1012.6 612.2,1012.8 606.2,1012.9 600.2,1013.1 594.2,1013.2 588.2,1013.4 582.2,1013.5 576.2,1013.7 570.2,1013.8 564.2,1014.0 558.2,1014.1 552.2,1014.2 546.2,1014.4 540.2,1014.5 534.2,1014.7 528.2,1014.8 522.2,1015.0 516.2,1015.1 510.2,1015.2 504.2,1015.4 498.2,1015.5 492.2,1015.6 486.2,1015.8 480.2,1015.9 474.2,1016.1 468.2,1016.2 462.2,1016.3 456.2,1016.5 450.2,1016.6 444.2,1016.7 438.2,1016.9 432.2,1017.0 426.2,1017.1 420.2,1017.3 414.2,1017.4 408.2,1017.5 402.2,1017.6 396.2,1017.8 390.2,1017.9 384.2,1018.0 378.2,1018.2 372.2,1018.3 366.2,1018.4 360.2,1018.6 354.2,1018.7 348.2,1018.8 342.2,1018.9 336.2,1019.1 330.2,1019.2 324.2,1019.3 318.2,1019.5 312.2,1019.6 306.2,1019.7 300.2,1019.9 294.2,1020.0 288.2,1020.1 282.2,1020.3 276.2,1020.4 270.2,1020.5 264.2,1020.7 258.2,1020.8 252.2,1020.9 246.2,1021.1 240.2,1021.2 234.2,1021.3 228.2,1021.5 222.2,1021.6 216.2,1021.7 210.2,1021.9 208.0,1022.1 206.1,1022.5 204.3,1023.2 202.7,1024.2 201.2,1025.4 200.0,1026.8 199.0,1028.6 198.1,1030.5 180.5,1078.4" fill="#3b3e40"/>
<polygon points="180.5,1078.4 198.1,1030.5 199.0,1028.6 200.0,1026.8 201.2,1025.4 202.7,1024.2 204.3,1023.2 206.1,1022.5 208.0,1022.1 210.2,1021.9 216.2,1021.7 222.2,1021.6 228.2,1021.5 234.2,1021.3 240.2,1021.2 246.2,1021.1 252.2,1020.9 258.2,1020.8 264.2,1020.7 270.2,1020.5 276.2,1020.4 282.2,1020.3 288.2,1020.1 294.2,1020.0 300.2,1019.9 306.2,1019.7 312.2,1019.6 318.2,1019.5 324.2,1019.3 330.2,1019.2 336.2,1019.1 342.2,1018.9 348.2,1018.8 354.2,1018.7 360.2,1018.6 366.2,1018.4 372.2,1018.3 378.2,1018.2 384.2,1018.0 390.2,1017.9 396.2,1017.8 402.2,1017.6 408.2,1017.5 414.2,1017.4 420.2,1017.3 426.2,1017.1 432.2,1017.0 438.2,1016.9 444.2,1016.7 450.2,1016.6 456.2,1016.5 462.2,1016.3 468.2,1016.2 474.2,1016.1 480.2,1015.9 486.2,1015.8 492.2,1015.6 498.2,1015.5 504.2,1015.4 510.2,1015.2 516.2,1015.1 522.2,1015.0 528.2,1014.8 534.2,1014.7 540.2,1014.5 546.2,1014.4 552.2,1014.2 558.2,1014.1 564.2,1014.0 570.2,1013.8 576.2,1013.7 582.2,1013.5 588.2,1013.4 594.2,1013.2 600.2,1013.1 606.2,1012.9 612.2,1012.8 618.2,1012.6 624.2,1012.4 630.2,1012.3 636.2,1012.1 642.2,1012.0 648.2,1011.8 654.2,1011.7 660.2,1011.5 666.2,1011.3 672.2,1011.2 678.2,1011.0 684.2,1010.8 690.2,1010.6 696.2,1010.5 702.2,1010.3 708.2,1010.1 714.2,1009.9 720.2,1009.8 726.2,1009.6 732.2,1009.4 738.2,1009.2 744.2,1009.0 750.2,1008.9 756.2,1008.7 762.2,1008.5 768.2,1008.3 774.2,1008.1 780.2,1007.9 786.2,1007.7 792.2,1007.5 798.2,1007.3 804.2,1007.1 810.2,1006.9 816.2,1006.7 822.2,1006.5 828.2,1006.2 834.2,1006.0 840.2,1005.8 846.2,1005.6 852.2,1005.4 858.2,1005.1 864.2,1004.9 870.2,1004.7 876.2,1004.5 882.2,1004.2 888.2,1004.0 894.2,1003.8 900.2,1003.5 906.2,1003.3 912.2,1003.0 918.2,1002.8 924.2,1002.5 930.2,1002.3 936.2,1002.0 942.2,1001.8 948.2,1001.5 954.2,1001.2 960.2,1001.0 966.2,1000.7 972.2,1000.4 978.2,1000.2 984.2,999.9 990.2,999.6 996.2,999.3 1002.2,999.0 1008.2,998.7 1014.2,998.4 1020.2,998.2 1026.2,997.9 1032.2,997.6 1038.2,997.2 1044.2,996.9 1044.3,996.9 1046.4,997.0 1048.4,997.3 1050.1,997.9 1051.5,998.8 1052.8,1000.0 1053.8,1001.4 1054.6,1003.2 1055.2,1005.3 1065.6,1055.2 1064.0,1058.0 1053.5,1008.1 1052.9,1006.0 1052.1,1004.2 1051.1,1002.8 1049.9,1001.6 1048.4,1000.7 1046.7,1000.1 1044.8,999.8 1042.7,999.8 1039.9,1000.0 1033.9,1000.4 1027.9,1000.7 1021.9,1001.1 1015.9,1001.5 1009.9,1001.8 1003.9,1002.2 997.9,1002.6 991.9,1002.9 985.9,1003.2 979.9,1003.6 973.9,1003.9 967.9,1004.3 961.9,1004.6 955.9,1004.9 949.9,1005.2 943.9,1005.5 937.9,1005.9 931.9,1006.2 925.9,1006.5 919.9,1006.8 913.9,1007.1 907.9,1007.4 901.9,1007.6 895.9,1007.9 889.9,1008.2 883.9,1008.5 877.9,1008.8 871.9,1009.0 865.9,1009.3 859.9,1009.6 853.9,1009.8 847.9,1010.1 841.9,1010.4 835.9,1010.6 829.9,1010.9 823.9,1011.1 817.9,1011.3 811.9,1011.6 805.9,1011.8 799.9,1012.1 793.9,1012.3 787.9,1012.5 781.9,1012.7 775.9,1013.0 769.9,1013.2 763.9,1013.4 757.9,1013.6 751.9,1013.8 745.9,1014.0 739.9,1014.2 733.9,1014.4 727.9,1014.6 721.9,1014.8 715.9,1015.0 709.9,1015.2 703.9,1015.4 697.9,1015.6 691.9,1015.8 685.9,1016.0 679.9,1016.2 673.9,1016.3 667.9,1016.5 661.9,1016.7 655.9,1016.8 649.9,1017.0 643.9,1017.2 637.9,1017.3 631.9,1017.5 625.9,1017.7 619.9,1017.8 613.9,1018.0 607.9,1018.1 601.9,1018.3 595.9,1018.4 589.9,1018.6 583.9,1018.7 577.9,1018.9 571.9,1019.0 565.9,1019.2 559.9,1019.3 553.9,1019.5 547.9,1019.6 541.9,1019.7 535.9,1019.9 529.9,1020.0 523.9,1020.1 517.9,1020.3 511.9,1020.4 505.9,1020.5 499.9,1020.6 493.9,1020.8 487.9,1020.9 481.9,1021.0 475.9,1021.1 469.9,1021.2 463.9,1021.4 457.9,1021.5 451.9,1021.6 445.9,1021.7 439.9,1021.8 433.9,1021.9 427.9,1022.0 421.9,1022.2 415.9,1022.3 409.9,1022.4 403.9,1022.5 397.9,1022.6 391.9,1022.7 385.9,1022.8 379.9,1022.9 373.9,1023.0 367.9,1023.1 361.9,1023.2 355.9,1023.3 349.9,1023.4 343.9,1023.5 337.9,1023.6 331.9,1023.7 325.9,1023.8 319.9,1023.9 313.9,1024.0 307.9,1024.1 301.9,1024.3 295.9,1024.4 289.9,1024.5 283.9,1024.6 277.9,1024.7 271.9,1024.8 265.9,1024.9 259.9,1025.0 253.9,1025.1 247.9,1025.2 241.9,1025.3 235.9,1025.4 229.9,1025.5 223.9,1025.6 217.9,1025.7 211.9,1025.8 209.7,1025.9 207.7,1026.4 205.9,1027.0 204.3,1028.0 202.9,1029.2 201.7,1030.7 200.6,1032.4 199.8,1034.4 182.2,1082.2" fill="#909395"/>
<polygon points="182.2,1082.2 200.1,1033.4 200.9,1031.7 201.8,1030.1 202.9,1028.8 204.2,1027.8 205.6,1026.9 207.2,1026.3 208.9,1025.9 210.9,1025.8 216.9,1025.7 222.9,1025.6 228.9,1025.5 234.9,1025.4 240.9,1025.3 246.9,1025.2 252.9,1025.1 258.9,1025.0 264.9,1024.9 270.9,1024.8 276.9,1024.7 282.9,1024.6 288.9,1024.5 294.9,1024.4 300.9,1024.3 306.9,1024.2 312.9,1024.1 318.9,1024.0 324.9,1023.9 330.9,1023.8 336.9,1023.7 342.9,1023.6 348.9,1023.5 354.9,1023.4 360.9,1023.2 366.9,1023.1 372.9,1023.0 378.9,1022.9 384.9,1022.8 390.9,1022.7 396.9,1022.6 402.9,1022.5 408.9,1022.4 414.9,1022.3 420.9,1022.2 426.9,1022.1 432.9,1022.0 438.9,1021.8 444.9,1021.7 450.9,1021.6 456.9,1021.5 462.9,1021.4 468.9,1021.3 474.9,1021.1 480.9,1021.0 486.9,1020.9 492.9,1020.8 498.9,1020.7 504.9,1020.5 510.9,1020.4 516.9,1020.3 522.9,1020.1 528.9,1020.0 534.9,1019.9 540.9,1019.7 546.9,1019.6 552.9,1019.5 558.9,1019.3 564.9,1019.2 570.9,1019.1 576.9,1018.9 582.9,1018.8 588.9,1018.6 594.9,1018.5 600.9,1018.3 606.9,1018.2 612.9,1018.0 618.9,1017.9 624.9,1017.7 630.9,1017.5 636.9,1017.4 642.9,1017.2 648.9,1017.0 654.9,1016.9 660.9,1016.7 666.9,1016.5 672.9,1016.4 678.9,1016.2 684.9,1016.0 690.9,1015.8 696.9,1015.6 702.9,1015.4 708.9,1015.3 714.9,1015.1 720.9,1014.9 726.9,1014.7 732.9,1014.5 738.9,1014.3 744.9,1014.1 750.9,1013.9 756.9,1013.6 762.9,1013.4 768.9,1013.2 774.9,1013.0 780.9,1012.8 786.9,1012.6 792.9,1012.3 798.9,1012.1 804.9,1011.9 810.9,1011.6 816.9,1011.4 822.9,1011.1 828.9,1010.9 834.9,1010.7 840.9,1010.4 846.9,1010.1 852.9,1009.9 858.9,1009.6 864.9,1009.4 870.9,1009.1 876.9,1008.8 882.9,1008.5 888.9,1008.3 894.9,1008.0 900.9,1007.7 906.9,1007.4 912.9,1007.1 918.9,1006.8 924.9,1006.5 930.9,1006.2 936.9,1005.9 942.9,1005.6 948.9,1005.3 954.9,1005.0 960.9,1004.6 966.9,1004.3 972.9,1004.0 978.9,1003.6 984.9,1003.3 990.9,1003.0 996.9,1002.6 1002.9,1002.3 1008.9,1001.9 1014.9,1001.5 1020.9,1001.2 1026.9,1000.8 1032.9,1000.4 1038.9,1000.1 1043.7,999.8 1045.6,999.8 1047.3,1000.0 1048.8,1000.5 1050.1,1001.3 1051.2,1002.4 1052.1,1003.7 1052.8,1005.2 1053.3,1007.1 1064.0,1058.0 1064.0,1100.0 182.2,1100.0" fill="#2d3032"/>
<polygon points="182.2,1082.2 200.1,1033.4 200.9,1031.7 201.8,1030.1 202.9,1028.8 204.2,1027.8 205.6,1026.9 207.2,1026.3 208.9,1025.9 210.9,1025.8 216.9,1025.7 222.9,1025.6 228.9,1025.5 234.9,1025.4 240.9,1025.3 246.9,1025.2 252.9,1025.1 258.9,1025.0 264.9,1024.9 270.9,1024.8 276.9,1024.7 282.9,1024.6 288.9,1024.5 294.9,1024.4 300.9,1024.3 306.9,1024.2 312.9,1024.1 318.9,1024.0 324.9,1023.9 330.9,1023.8 336.9,1023.7 342.9,1023.6 348.9,1023.5 354.9,1023.4 360.9,1023.2 366.9,1023.1 372.9,1023.0 378.9,1022.9 384.9,1022.8 390.9,1022.7 396.9,1022.6 402.9,1022.5 408.9,1022.4 414.9,1022.3 420.9,1022.2 426.9,1022.1 432.9,1022.0 438.9,1021.8 444.9,1021.7 450.9,1021.6 456.9,1021.5 462.9,1021.4 468.9,1021.3 474.9,1021.1 480.9,1021.0 486.9,1020.9 492.9,1020.8 498.9,1020.7 504.9,1020.5 510.9,1020.4 516.9,1020.3 522.9,1020.1 528.9,1020.0 534.9,1019.9 540.9,1019.7 546.9,1019.6 552.9,1019.5 558.9,1019.3 564.9,1019.2 570.9,1019.1 576.9,1018.9 582.9,1018.8 588.9,1018.6 594.9,1018.5 600.9,1018.3 606.9,1018.2 612.9,1018.0 618.9,1017.9 624.9,1017.7 630.9,1017.5 636.9,1017.4 642.9,1017.2 648.9,1017.0 654.9,1016.9 660.9,1016.7 666.9,1016.5 672.9,1016.4 678.9,1016.2 684.9,1016.0 690.9,1015.8 696.9,1015.6 702.9,1015.4 708.9,1015.3 714.9,1015.1 720.9,1014.9 726.9,1014.7 732.9,1014.5 738.9,1014.3 744.9,1014.1 750.9,1013.9 756.9,1013.6 762.9,1013.4 768.9,1013.2 774.9,1013.0 780.9,1012.8 786.9,1012.6 792.9,1012.3 798.9,1012.1 804.9,1011.9 810.9,1011.6 816.9,1011.4 822.9,1011.1 828.9,1010.9 834.9,1010.7 840.9,1010.4 846.9,1010.1 852.9,1009.9 858.9,1009.6 864.9,1009.4 870.9,1009.1 876.9,1008.8 882.9,1008.5 888.9,1008.3 894.9,1008.0 900.9,1007.7 906.9,1007.4 912.9,1007.1 918.9,1006.8 924.9,1006.5 930.9,1006.2 936.9,1005.9 942.9,1005.6 948.9,1005.3 954.9,1005.0 960.9,1004.6 966.9,1004.3 972.9,1004.0 978.9,1003.6 984.9,1003.3 990.9,1003.0 996.9,1002.6 1002.9,1002.3 1008.9,1001.9 1014.9,1001.5 1020.9,1001.2 1026.9,1000.8 1032.9,1000.4 1038.9,1000.1 1043.7,999.8 1045.6,999.8 1047.3,1000.0 1048.8,1000.5 1050.1,1001.3 1051.2,1002.4 1052.1,1003.7 1052.8,1005.2 1053.3,1007.1 1064.0,1058.0 1064.0,1060.0 1053.3,1009.1 1052.8,1007.2 1052.1,1005.7 1051.2,1004.4 1050.1,1003.3 1048.8,1002.5 1047.3,1002.0 1045.6,1001.8 1043.7,1001.8 1038.9,1002.1 1032.9,1002.4 1026.9,1002.8 1020.9,1003.2 1014.9,1003.5 1008.9,1003.9 1002.9,1004.3 996.9,1004.6 990.9,1005.0 984.9,1005.3 978.9,1005.6 972.9,1006.0 966.9,1006.3 960.9,1006.6 954.9,1007.0 948.9,1007.3 942.9,1007.6 936.9,1007.9 930.9,1008.2 924.9,1008.5 918.9,1008.8 912.9,1009.1 906.9,1009.4 900.9,1009.7 894.9,1010.0 888.9,1010.3 882.9,1010.5 876.9,1010.8 870.9,1011.1 864.9,1011.4 858.9,1011.6 852.9,1011.9 846.9,1012.1 840.9,1012.4 834.9,1012.7 828.9,1012.9 822.9,1013.1 816.9,1013.4 810.9,1013.6 804.9,1013.9 798.9,1014.1 792.9,1014.3 786.9,1014.6 780.9,1014.8 774.9,1015.0 768.9,1015.2 762.9,1015.4 756.9,1015.6 750.9,1015.9 744.9,1016.1 738.9,1016.3 732.9,1016.5 726.9,1016.7 720.9,1016.9 714.9,1017.1 708.9,1017.3 702.9,1017.4 696.9,1017.6 690.9,1017.8 684.9,1018.0 678.9,1018.2 672.9,1018.4 666.9,1018.5 660.9,1018.7 654.9,1018.9 648.9,1019.0 642.9,1019.2 636.9,1019.4 630.9,1019.5 624.9,1019.7 618.9,1019.9 612.9,1020.0 606.9,1020.2 600.9,1020.3 594.9,1020.5 588.9,1020.6 582.9,1020.8 576.9,1020.9 570.9,1021.1 564.9,1021.2 558.9,1021.3 552.9,1021.5 546.9,1021.6 540.9,1021.7 534.9,1021.9 528.9,1022.0 522.9,1022.1 516.9,1022.3 510.9,1022.4 504.9,1022.5 498.9,1022.7 492.9,1022.8 486.9,1022.9 480.9,1023.0 474.9,1023.1 468.9,1023.3 462.9,1023.4 456.9,1023.5 450.9,1023.6 444.9,1023.7 438.9,1023.8 432.9,1024.0 426.9,1024.1 420.9,1024.2 414.9,1024.3 408.9,1024.4 402.9,1024.5 396.9,1024.6 390.9,1024.7 384.9,1024.8 378.9,1024.9 372.9,1025.0 366.9,1025.1 360.9,1025.2 354.9,1025.4 348.9,1025.5 342.9,1025.6 336.9,1025.7 330.9,1025.8 324.9,1025.9 318.9,1026.0 312.9,1026.1 306.9,1026.2 300.9,1026.3 294.9,1026.4 288.9,1026.5 282.9,1026.6 276.9,1026.7 270.9,1026.8 264.9,1026.9 258.9,1027.0 252.9,1027.1 246.9,1027.2 240.9,1027.3 234.9,1027.4 228.9,1027.5 222.9,1027.6 216.9,1027.7 210.9,1027.8 208.9,1027.9 207.2,1028.3 205.6,1028.9 204.2,1029.8 202.9,1030.8 201.8,1032.1 200.9,1033.7 200.1,1035.4 182.2,1084.2" fill="#4a4d4f"/>
<polygon points="182.2,1084.2 200.1,1035.4 200.9,1033.7 201.8,1032.1 202.9,1030.8 204.2,1029.8 205.6,1028.9 207.2,1028.3 208.9,1027.9 210.9,1027.8 216.9,1027.7 222.9,1027.6 228.9,1027.5 234.9,1027.4 240.9,1027.3 246.9,1027.2 252.9,1027.1 258.9,1027.0 264.9,1026.9 270.9,1026.8 276.9,1026.7 282.9,1026.6 288.9,1026.5 294.9,1026.4 300.9,1026.3 306.9,1026.2 312.9,1026.1 318.9,1026.0 324.9,1025.9 330.9,1025.8 336.9,1025.7 342.9,1025.6 348.9,1025.5 354.9,1025.4 360.9,1025.2 366.9,1025.1 372.9,1025.0 378.9,1024.9 384.9,1024.8 390.9,1024.7 396.9,1024.6 402.9,1024.5 408.9,1024.4 414.9,1024.3 420.9,1024.2 426.9,1024.1 432.9,1024.0 438.9,1023.8 444.9,1023.7 450.9,1023.6 456.9,1023.5 462.9,1023.4 468.9,1023.3 474.9,1023.1 480.9,1023.0 486.9,1022.9 492.9,1022.8 498.9,1022.7 504.9,1022.5 510.9,1022.4 516.9,1022.3 522.9,1022.1 528.9,1022.0 534.9,1021.9 540.9,1021.7 546.9,1021.6 552.9,1021.5 558.9,1021.3 564.9,1021.2 570.9,1021.1 576.9,1020.9 582.9,1020.8 588.9,1020.6 594.9,1020.5 600.9,1020.3 606.9,1020.2 612.9,1020.0 618.9,1019.9 624.9,1019.7 630.9,1019.5 636.9,1019.4 642.9,1019.2 648.9,1019.0 654.9,1018.9 660.9,1018.7 666.9,1018.5 672.9,1018.4 678.9,1018.2 684.9,1018.0 690.9,1017.8 696.9,1017.6 702.9,1017.4 708.9,1017.3 714.9,1017.1 720.9,1016.9 726.9,1016.7 732.9,1016.5 738.9,1016.3 744.9,1016.1 750.9,1015.9 756.9,1015.6 762.9,1015.4 768.9,1015.2 774.9,1015.0 780.9,1014.8 786.9,1014.6 792.9,1014.3 798.9,1014.1 804.9,1013.9 810.9,1013.6 816.9,1013.4 822.9,1013.1 828.9,1012.9 834.9,1012.7 840.9,1012.4 846.9,1012.1 852.9,1011.9 858.9,1011.6 864.9,1011.4 870.9,1011.1 876.9,1010.8 882.9,1010.5 888.9,1010.3 894.9,1010.0 900.9,1009.7 906.9,1009.4 912.9,1009.1 918.9,1008.8 924.9,1008.5 930.9,1008.2 936.9,1007.9 942.9,1007.6 948.9,1007.3 954.9,1007.0 960.9,1006.6 966.9,1006.3 972.9,1006.0 978.9,1005.6 984.9,1005.3 990.9,1005.0 996.9,1004.6 1002.9,1004.3 1008.9,1003.9 1014.9,1003.5 1020.9,1003.2 1026.9,1002.8 1032.9,1002.4 1038.9,1002.1 1043.7,1001.8 1045.6,1001.8 1047.3,1002.0 1048.8,1002.5 1050.1,1003.3 1051.2,1004.4 1052.1,1005.7 1052.8,1007.2 1053.3,1009.1 1064.0,1060.0 1064.0,1062.5 1053.3,1011.6 1052.8,1009.7 1052.1,1008.2 1051.2,1006.9 1050.1,1005.8 1048.8,1005.0 1047.3,1004.5 1045.6,1004.3 1043.7,1004.3 1038.9,1004.6 1032.9,1004.9 1026.9,1005.3 1020.9,1005.7 1014.9,1006.0 1008.9,1006.4 1002.9,1006.8 996.9,1007.1 990.9,1007.5 984.9,1007.8 978.9,1008.1 972.9,1008.5 966.9,1008.8 960.9,1009.1 954.9,1009.5 948.9,1009.8 942.9,1010.1 936.9,1010.4 930.9,1010.7 924.9,1011.0 918.9,1011.3 912.9,1011.6 906.9,1011.9 900.9,1012.2 894.9,1012.5 888.9,1012.8 882.9,1013.0 876.9,1013.3 870.9,1013.6 864.9,1013.9 858.9,1014.1 852.9,1014.4 846.9,1014.6 840.9,1014.9 834.9,1015.2 828.9,1015.4 822.9,1015.6 816.9,1015.9 810.9,1016.1 804.9,1016.4 798.9,1016.6 792.9,1016.8 786.9,1017.1 780.9,1017.3 774.9,1017.5 768.9,1017.7 762.9,1017.9 756.9,1018.1 750.9,1018.4 744.9,1018.6 738.9,1018.8 732.9,1019.0 726.9,1019.2 720.9,1019.4 714.9,1019.6 708.9,1019.8 702.9,1019.9 696.9,1020.1 690.9,1020.3 684.9,1020.5 678.9,1020.7 672.9,1020.9 666.9,1021.0 660.9,1021.2 654.9,1021.4 648.9,1021.5 642.9,1021.7 636.9,1021.9 630.9,1022.0 624.9,1022.2 618.9,1022.4 612.9,1022.5 606.9,1022.7 600.9,1022.8 594.9,1023.0 588.9,1023.1 582.9,1023.3 576.9,1023.4 570.9,1023.6 564.9,1023.7 558.9,1023.8 552.9,1024.0 546.9,1024.1 540.9,1024.2 534.9,1024.4 528.9,1024.5 522.9,1024.6 516.9,1024.8 510.9,1024.9 504.9,1025.0 498.9,1025.2 492.9,1025.3 486.9,1025.4 480.9,1025.5 474.9,1025.6 468.9,1025.8 462.9,1025.9 456.9,1026.0 450.9,1026.1 444.9,1026.2 438.9,1026.3 432.9,1026.5 426.9,1026.6 420.9,1026.7 414.9,1026.8 408.9,1026.9 402.9,1027.0 396.9,1027.1 390.9,1027.2 384.9,1027.3 378.9,1027.4 372.9,1027.5 366.9,1027.6 360.9,1027.7 354.9,1027.9 348.9,1028.0 342.9,1028.1 336.9,1028.2 330.9,1028.3 324.9,1028.4 318.9,1028.5 312.9,1028.6 306.9,1028.7 300.9,1028.8 294.9,1028.9 288.9,1029.0 282.9,1029.1 276.9,1029.2 270.9,1029.3 264.9,1029.4 258.9,1029.5 252.9,1029.6 246.9,1029.7 240.9,1029.8 234.9,1029.9 228.9,1030.0 222.9,1030.1 216.9,1030.2 210.9,1030.3 208.9,1030.4 207.2,1030.8 205.6,1031.4 204.2,1032.3 202.9,1033.3 201.8,1034.6 200.9,1036.2 200.1,1037.9 182.2,1086.7" fill="#3d4042"/>
<polygon points="182.2,1086.7 200.1,1037.9 200.9,1036.2 201.8,1034.6 202.9,1033.3 204.2,1032.3 205.6,1031.4 207.2,1030.8 208.9,1030.4 210.9,1030.3 216.9,1030.2 222.9,1030.1 228.9,1030.0 234.9,1029.9 240.9,1029.8 246.9,1029.7 252.9,1029.6 258.9,1029.5 264.9,1029.4 270.9,1029.3 276.9,1029.2 282.9,1029.1 288.9,1029.0 294.9,1028.9 300.9,1028.8 306.9,1028.7 312.9,1028.6 318.9,1028.5 324.9,1028.4 330.9,1028.3 336.9,1028.2 342.9,1028.1 348.9,1028.0 354.9,1027.9 360.9,1027.7 366.9,1027.6 372.9,1027.5 378.9,1027.4 384.9,1027.3 390.9,1027.2 396.9,1027.1 402.9,1027.0 408.9,1026.9 414.9,1026.8 420.9,1026.7 426.9,1026.6 432.9,1026.5 438.9,1026.3 444.9,1026.2 450.9,1026.1 456.9,1026.0 462.9,1025.9 468.9,1025.8 474.9,1025.6 480.9,1025.5 486.9,1025.4 492.9,1025.3 498.9,1025.2 504.9,1025.0 510.9,1024.9 516.9,1024.8 522.9,1024.6 528.9,1024.5 534.9,1024.4 540.9,1024.2 546.9,1024.1 552.9,1024.0 558.9,1023.8 564.9,1023.7 570.9,1023.6 576.9,1023.4 582.9,1023.3 588.9,1023.1 594.9,1023.0 600.9,1022.8 606.9,1022.7 612.9,1022.5 618.9,1022.4 624.9,1022.2 630.9,1022.0 636.9,1021.9 642.9,1021.7 648.9,1021.5 654.9,1021.4 660.9,1021.2 666.9,1021.0 672.9,1020.9 678.9,1020.7 684.9,1020.5 690.9,1020.3 696.9,1020.1 702.9,1019.9 708.9,1019.8 714.9,1019.6 720.9,1019.4 726.9,1019.2 732.9,1019.0 738.9,1018.8 744.9,1018.6 750.9,1018.4 756.9,1018.1 762.9,1017.9 768.9,1017.7 774.9,1017.5 780.9,1017.3 786.9,1017.1 792.9,1016.8 798.9,1016.6 804.9,1016.4 810.9,1016.1 816.9,1015.9 822.9,1015.6 828.9,1015.4 834.9,1015.2 840.9,1014.9 846.9,1014.6 852.9,1014.4 858.9,1014.1 864.9,1013.9 870.9,1013.6 876.9,1013.3 882.9,1013.0 888.9,1012.8 894.9,1012.5 900.9,1012.2 906.9,1011.9 912.9,1011.6 918.9,1011.3 924.9,1011.0 930.9,1010.7 936.9,1010.4 942.9,1010.1 948.9,1009.8 954.9,1009.5 960.9,1009.1 966.9,1008.8 972.9,1008.5 978.9,1008.1 984.9,1007.8 990.9,1007.5 996.9,1007.1 1002.9,1006.8 1008.9,1006.4 1014.9,1006.0 1020.9,1005.7 1026.9,1005.3 1032.9,1004.9 1038.9,1004.6 1043.7,1004.3 1045.6,1004.3 1047.3,1004.5 1048.8,1005.0 1050.1,1005.8 1051.2,1006.9 1052.1,1008.2 1052.8,1009.7 1053.3,1011.6 1064.0,1062.5 1064.0,1066.0 1053.3,1015.1 1052.8,1013.2 1052.1,1011.7 1051.2,1010.4 1050.1,1009.3 1048.8,1008.5 1047.3,1008.0 1045.6,1007.8 1043.7,1007.8 1038.9,1008.1 1032.9,1008.4 1026.9,1008.8 1020.9,1009.2 1014.9,1009.5 1008.9,1009.9 1002.9,1010.3 996.9,1010.6 990.9,1011.0 984.9,1011.3 978.9,1011.6 972.9,1012.0 966.9,1012.3 960.9,1012.6 954.9,1013.0 948.9,1013.3 942.9,1013.6 936.9,1013.9 930.9,1014.2 924.9,1014.5 918.9,1014.8 912.9,1015.1 906.9,1015.4 900.9,1015.7 894.9,1016.0 888.9,1016.3 882.9,1016.5 876.9,1016.8 870.9,1017.1 864.9,1017.4 858.9,1017.6 852.9,1017.9 846.9,1018.1 840.9,1018.4 834.9,1018.7 828.9,1018.9 822.9,1019.1 816.9,1019.4 810.9,1019.6 804.9,1019.9 798.9,1020.1 792.9,1020.3 786.9,1020.6 780.9,1020.8 774.9,1021.0 768.9,1021.2 762.9,1021.4 756.9,1021.6 750.9,1021.9 744.9,1022.1 738.9,1022.3 732.9,1022.5 726.9,1022.7 720.9,1022.9 714.9,1023.1 708.9,1023.3 702.9,1023.4 696.9,1023.6 690.9,1023.8 684.9,1024.0 678.9,1024.2 672.9,1024.4 666.9,1024.5 660.9,1024.7 654.9,1024.9 648.9,1025.0 642.9,1025.2 636.9,1025.4 630.9,1025.5 624.9,1025.7 618.9,1025.9 612.9,1026.0 606.9,1026.2 600.9,1026.3 594.9,1026.5 588.9,1026.6 582.9,1026.8 576.9,1026.9 570.9,1027.1 564.9,1027.2 558.9,1027.3 552.9,1027.5 546.9,1027.6 540.9,1027.7 534.9,1027.9 528.9,1028.0 522.9,1028.1 516.9,1028.3 510.9,1028.4 504.9,1028.5 498.9,1028.7 492.9,1028.8 486.9,1028.9 480.9,1029.0 474.9,1029.1 468.9,1029.3 462.9,1029.4 456.9,1029.5 450.9,1029.6 444.9,1029.7 438.9,1029.8 432.9,1030.0 426.9,1030.1 420.9,1030.2 414.9,1030.3 408.9,1030.4 402.9,1030.5 396.9,1030.6 390.9,1030.7 384.9,1030.8 378.9,1030.9 372.9,1031.0 366.9,1031.1 360.9,1031.2 354.9,1031.4 348.9,1031.5 342.9,1031.6 336.9,1031.7 330.9,1031.8 324.9,1031.9 318.9,1032.0 312.9,1032.1 306.9,1032.2 300.9,1032.3 294.9,1032.4 288.9,1032.5 282.9,1032.6 276.9,1032.7 270.9,1032.8 264.9,1032.9 258.9,1033.0 252.9,1033.1 246.9,1033.2 240.9,1033.3 234.9,1033.4 228.9,1033.5 222.9,1033.6 216.9,1033.7 210.9,1033.8 208.9,1033.9 207.2,1034.3 205.6,1034.9 204.2,1035.8 202.9,1036.8 201.8,1038.1 200.9,1039.7 200.1,1041.4 182.2,1090.2" fill="#333638"/>
<polygon points="1064,971 1081,970.8 1085,975.2 1097.2,1054.6 1095.5,1057.4 1072.9,1057.8 1066,1054 1064,1030 1064,995" fill="url(#capg3)"/>
<polygon points="1064,971.3 1081,970.8 1085,975.2 1087,988 1078,984 1066,982" fill="#4c4f51"/></g></g>
</defs>
<rect width="1287" height="1358" fill="#fff"/>
<g font-family="Liberation Sans, sans-serif" font-weight="bold" fill="#2356c6" stroke="#2356c6" stroke-width="2.4" font-size="69.0"><text x="195.6" y="53.4" textLength="41.5" lengthAdjust="spacingAndGlyphs">P</text><text x="237.8" y="53.4" textLength="44.2" lengthAdjust="spacingAndGlyphs">R</text><text x="283.4" y="53.4" textLength="49.1" lengthAdjust="spacingAndGlyphs">O</text><text x="334.0" y="53.4" textLength="37.9" lengthAdjust="spacingAndGlyphs">T</text><text x="373.6" y="53.4" textLength="37.4" lengthAdjust="spacingAndGlyphs">E</text><text x="413.0" y="53.4" textLength="44.2" lengthAdjust="spacingAndGlyphs">C</text><text x="458.0" y="53.4" textLength="38.9" lengthAdjust="spacingAndGlyphs">T</text><text x="497.2" y="53.4" textLength="19.0" lengthAdjust="spacingAndGlyphs">I</text><text x="516.2" y="53.4" textLength="45.7" lengthAdjust="spacingAndGlyphs">V</text><text x="565.5" y="53.4" textLength="36.8" lengthAdjust="spacingAndGlyphs">E</text><text x="617.9" y="53.4" textLength="39.2" lengthAdjust="spacingAndGlyphs">S</text><text x="658.9" y="53.4" textLength="49.0" lengthAdjust="spacingAndGlyphs">H</text><text x="710.3" y="53.4" textLength="16.3" lengthAdjust="spacingAndGlyphs">I</text><text x="729.2" y="53.4" textLength="40.9" lengthAdjust="spacingAndGlyphs">P</text><text x="771.8" y="53.4" textLength="40.3" lengthAdjust="spacingAndGlyphs">P</text><text x="812.8" y="53.4" textLength="18.0" lengthAdjust="spacingAndGlyphs">I</text><text x="831.6" y="53.4" textLength="47.9" lengthAdjust="spacingAndGlyphs">N</text><text x="882.3" y="53.4" textLength="46.2" lengthAdjust="spacingAndGlyphs">G</text><text x="945.6" y="53.4" textLength="42.8" lengthAdjust="spacingAndGlyphs">B</text><text x="989.0" y="53.4" textLength="50.5" lengthAdjust="spacingAndGlyphs">O</text><text x="1041.8" y="53.4" textLength="44.1" lengthAdjust="spacingAndGlyphs">X</text><text x="283.0" y="558.4" textLength="37.5" lengthAdjust="spacingAndGlyphs">2</text><text x="339.0" y="558.4" textLength="36.6" lengthAdjust="spacingAndGlyphs">F</text><text x="376.3" y="558.4" textLength="43.0" lengthAdjust="spacingAndGlyphs">R</text><text x="420.3" y="558.4" textLength="49.3" lengthAdjust="spacingAndGlyphs">O</text><text x="471.7" y="558.4" textLength="47.5" lengthAdjust="spacingAndGlyphs">N</text><text x="520.9" y="558.4" textLength="39.8" lengthAdjust="spacingAndGlyphs">T</text><text x="578.0" y="558.4" textLength="46.7" lengthAdjust="spacingAndGlyphs">D</text><text x="627.8" y="558.4" textLength="36.5" lengthAdjust="spacingAndGlyphs">E</text><text x="667.2" y="558.4" textLength="35.3" lengthAdjust="spacingAndGlyphs">F</text><text x="703.1" y="558.4" textLength="35.3" lengthAdjust="spacingAndGlyphs">L</text><text x="742.1" y="558.4" textLength="35.4" lengthAdjust="spacingAndGlyphs">E</text><text x="779.5" y="558.4" textLength="44.2" lengthAdjust="spacingAndGlyphs">C</text><text x="823.7" y="558.4" textLength="38.6" lengthAdjust="spacingAndGlyphs">T</text><text x="863.7" y="558.4" textLength="49.4" lengthAdjust="spacingAndGlyphs">O</text><text x="915.2" y="558.4" textLength="43.8" lengthAdjust="spacingAndGlyphs">R</text><text x="960.5" y="558.4" textLength="38.6" lengthAdjust="spacingAndGlyphs">S</text><text x="305.9" y="1353.4" textLength="37.5" lengthAdjust="spacingAndGlyphs">2</text><text x="361.4" y="1353.4" textLength="44.1" lengthAdjust="spacingAndGlyphs">R</text><text x="408.2" y="1353.4" textLength="35.5" lengthAdjust="spacingAndGlyphs">E</text><text x="445.1" y="1353.4" textLength="48.1" lengthAdjust="spacingAndGlyphs">A</text><text x="495.2" y="1353.4" textLength="42.8" lengthAdjust="spacingAndGlyphs">R</text><text x="555.6" y="1353.4" textLength="47.0" lengthAdjust="spacingAndGlyphs">D</text><text x="605.6" y="1353.4" textLength="36.9" lengthAdjust="spacingAndGlyphs">E</text><text x="644.2" y="1353.4" textLength="35.8" lengthAdjust="spacingAndGlyphs">F</text><text x="681.6" y="1353.4" textLength="34.6" lengthAdjust="spacingAndGlyphs">L</text><text x="718.9" y="1353.4" textLength="35.9" lengthAdjust="spacingAndGlyphs">E</text><text x="756.6" y="1353.4" textLength="44.5" lengthAdjust="spacingAndGlyphs">C</text><text x="801.0" y="1353.4" textLength="38.9" lengthAdjust="spacingAndGlyphs">T</text><text x="841.2" y="1353.4" textLength="49.6" lengthAdjust="spacingAndGlyphs">O</text><text x="892.8" y="1353.4" textLength="43.1" lengthAdjust="spacingAndGlyphs">R</text><text x="937.3" y="1353.4" textLength="38.9" lengthAdjust="spacingAndGlyphs">S</text></g>
<polygon points="15,369 25,370.7 640,367.5 1230,367.4 1266,366 1275,362.3 1283.6,364.8 1259,379.3 640,381.7 38,384.7" fill="url(#front)"/>
<polyline points="38,384.2 640,381.2 1259,378.8 1283.6,364.5" fill="none" stroke="#24160b" stroke-width="1.2"/>
<polygon points="58,158 1249,157 1275,362.3 1266,366 1230,367.4 640,367.5 25,370.7" fill="url(#topface)"/>
<polyline points="58,158.6 1249,157.6" fill="none" stroke="#b49a7c" stroke-width="1.5" opacity="0.7"/>
<polygon points="49.8,158.2 57.4,158 23.9,369 15.3,369" fill="#cdaa85"/>
<polygon points="51,158.2 53,158.2 18,369 16,369" fill="#dcc09e"/>
<polygon points="55,158 59,158 26,369 22.5,369" fill="#2a1d12"/>
<polygon points="15,366 24,366 25,371 20,372" fill="#3a2816"/>
<polygon points="1249.3,156.8 1257.9,157 1283.6,364.8 1275,362.3" fill="#c7a27c"/>
<polygon points="1255,157 1257.9,157 1283.6,364.8 1280.8,364" fill="#dcc09e"/>
<polygon points="1248.8,156.8 1252,156.8 1277.5,363 1274.5,363" fill="#2a1d12"/>
<polygon points="84.9,204.3 197.4,204.3 182.5,312.5 68.1,312.5" fill="none" stroke="#221b15" stroke-width="2.6" stroke-dasharray="4.5 2"/>
<g font-family="Liberation Sans, sans-serif" fill="#4a4039" stroke="#4a4039">
<g font-size="47.4" font-weight="bold" stroke-width="2.6"><text x="466.9" y="272" textLength="35.4" lengthAdjust="spacingAndGlyphs">W</text><text x="502.4" y="272" textLength="13.4" lengthAdjust="spacingAndGlyphs">I</text><text x="515.5" y="272" textLength="27.1" lengthAdjust="spacingAndGlyphs">N</text><text x="544.3" y="272" textLength="26.0" lengthAdjust="spacingAndGlyphs">D</text><text x="572.1" y="272" textLength="22.9" lengthAdjust="spacingAndGlyphs">O</text><text x="597.8" y="272" textLength="33.7" lengthAdjust="spacingAndGlyphs">W</text><text x="642.5" y="272" textLength="24.9" lengthAdjust="spacingAndGlyphs">V</text><text x="667.9" y="272" textLength="13.1" lengthAdjust="spacingAndGlyphs">I</text><text x="680.6" y="272" textLength="22.8" lengthAdjust="spacingAndGlyphs">S</text><text x="705.3" y="272" textLength="22.8" lengthAdjust="spacingAndGlyphs">O</text><text x="731.1" y="272" textLength="23.9" lengthAdjust="spacingAndGlyphs">R</text><text x="757.8" y="272" textLength="21.6" lengthAdjust="spacingAndGlyphs">S</text></g>
<text x="543" y="295.3" font-size="17.4" stroke-width="0.5" textLength="157" lengthAdjust="spacingAndGlyphs">UPGRADE MATERIAL</text>
</g>
<use href="#v1"/>
<use href="#v1" transform="translate(0,153)"/>
<use href="#v3"/>
<use href="#v3" transform="translate(-2,142.8)"/>
<rect x="640" y="85" width="3" height="67" fill="#000"/>
<circle cx="642.5" cy="168.8" r="16.2" fill="#fff"/><circle cx="642.5" cy="168.8" r="8.4" fill="#2356c6"/>
<rect x="641.5" y="590" width="3" height="67" fill="#000"/>
<circle cx="643.6" cy="673.2" r="16.4" fill="#fff"/><circle cx="643.6" cy="673.2" r="8.4" fill="#2356c6"/>
<circle cx="641.7" cy="1191.1" r="16.4" fill="#fff"/><circle cx="641.7" cy="1191.1" r="8.4" fill="#2356c6"/>
<rect x="640.2" y="1208" width="3" height="67" fill="#000"/>
</svg>
</body></html>
